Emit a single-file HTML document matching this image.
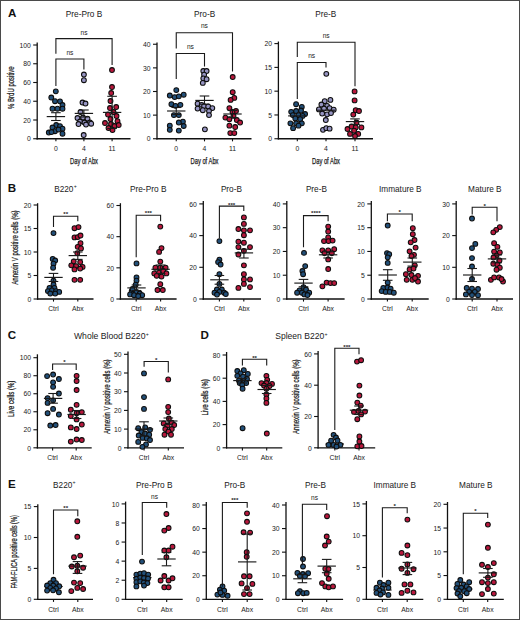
<!DOCTYPE html>
<html><head><meta charset="utf-8"><style>
html,body{margin:0;padding:0;background:#fff;}
body{width:520px;height:620px;overflow:hidden;}
svg{display:block;font-family:"Liberation Sans",sans-serif;}
</style></head><body>
<svg width="520" height="620" viewBox="0 0 520 620">
<rect x="0" y="0" width="520" height="620" fill="#fff"/>
<line x1="37.2" y1="42.5" x2="37.2" y2="139.4" stroke="#111" stroke-width="1.3"/>
<line x1="36.550000000000004" y1="138.75" x2="130.5" y2="138.75" stroke="#111" stroke-width="1.3"/>
<line x1="33.2" y1="138.75" x2="37.2" y2="138.75" stroke="#111" stroke-width="1.1"/>
<text x="30.800000000000004" y="138.95" font-size="6.8" font-weight="normal" text-anchor="end" dominant-baseline="central" fill="#1a1a1a">0</text>
<line x1="33.2" y1="120.0" x2="37.2" y2="120.0" stroke="#111" stroke-width="1.1"/>
<text x="30.800000000000004" y="120.2" font-size="6.8" font-weight="normal" text-anchor="end" dominant-baseline="central" fill="#1a1a1a">20</text>
<line x1="33.2" y1="101.25" x2="37.2" y2="101.25" stroke="#111" stroke-width="1.1"/>
<text x="30.800000000000004" y="101.45" font-size="6.8" font-weight="normal" text-anchor="end" dominant-baseline="central" fill="#1a1a1a">40</text>
<line x1="33.2" y1="82.5" x2="37.2" y2="82.5" stroke="#111" stroke-width="1.1"/>
<text x="30.800000000000004" y="82.7" font-size="6.8" font-weight="normal" text-anchor="end" dominant-baseline="central" fill="#1a1a1a">60</text>
<line x1="33.2" y1="63.75" x2="37.2" y2="63.75" stroke="#111" stroke-width="1.1"/>
<text x="30.800000000000004" y="63.95" font-size="6.8" font-weight="normal" text-anchor="end" dominant-baseline="central" fill="#1a1a1a">80</text>
<line x1="33.2" y1="45.0" x2="37.2" y2="45.0" stroke="#111" stroke-width="1.1"/>
<text x="30.800000000000004" y="45.2" font-size="6.8" font-weight="normal" text-anchor="end" dominant-baseline="central" fill="#1a1a1a">100</text>
<line x1="55.9" y1="138.75" x2="55.9" y2="141.35" stroke="#111" stroke-width="1.1"/>
<text x="55.9" y="148.8" font-size="6.8" font-weight="normal" text-anchor="middle" dominant-baseline="central" fill="#1a1a1a">0</text>
<line x1="83.9" y1="138.75" x2="83.9" y2="141.35" stroke="#111" stroke-width="1.1"/>
<text x="83.9" y="148.8" font-size="6.8" font-weight="normal" text-anchor="middle" dominant-baseline="central" fill="#1a1a1a">4</text>
<line x1="112.1" y1="138.75" x2="112.1" y2="141.35" stroke="#111" stroke-width="1.1"/>
<text x="112.1" y="148.8" font-size="6.8" font-weight="normal" text-anchor="middle" dominant-baseline="central" fill="#1a1a1a">11</text>
<circle cx="55.8" cy="91.3" r="2.4" fill="#22507a" stroke="#0d0d0d" stroke-width="1.05"/>
<circle cx="51.3" cy="97.5" r="2.4" fill="#22507a" stroke="#0d0d0d" stroke-width="1.05"/>
<circle cx="55.0" cy="101.2" r="2.4" fill="#22507a" stroke="#0d0d0d" stroke-width="1.05"/>
<circle cx="60.0" cy="101.3" r="2.4" fill="#22507a" stroke="#0d0d0d" stroke-width="1.05"/>
<circle cx="62.5" cy="105.0" r="2.4" fill="#22507a" stroke="#0d0d0d" stroke-width="1.05"/>
<circle cx="52.5" cy="108.7" r="2.4" fill="#22507a" stroke="#0d0d0d" stroke-width="1.05"/>
<circle cx="57.5" cy="108.7" r="2.4" fill="#22507a" stroke="#0d0d0d" stroke-width="1.05"/>
<circle cx="62.5" cy="108.7" r="2.4" fill="#22507a" stroke="#0d0d0d" stroke-width="1.05"/>
<circle cx="56.2" cy="125.0" r="2.4" fill="#22507a" stroke="#0d0d0d" stroke-width="1.05"/>
<circle cx="60.0" cy="126.2" r="2.4" fill="#22507a" stroke="#0d0d0d" stroke-width="1.05"/>
<circle cx="52.5" cy="127.5" r="2.4" fill="#22507a" stroke="#0d0d0d" stroke-width="1.05"/>
<circle cx="62.5" cy="128.7" r="2.4" fill="#22507a" stroke="#0d0d0d" stroke-width="1.05"/>
<circle cx="48.8" cy="132.5" r="2.4" fill="#22507a" stroke="#0d0d0d" stroke-width="1.05"/>
<circle cx="55.0" cy="131.2" r="2.4" fill="#22507a" stroke="#0d0d0d" stroke-width="1.05"/>
<circle cx="58.5" cy="129.5" r="2.4" fill="#22507a" stroke="#0d0d0d" stroke-width="1.05"/>
<circle cx="62.5" cy="133.7" r="2.4" fill="#22507a" stroke="#0d0d0d" stroke-width="1.05"/>
<circle cx="51.5" cy="132.0" r="2.4" fill="#22507a" stroke="#0d0d0d" stroke-width="1.05"/>
<circle cx="83.9" cy="74.5" r="2.4" fill="#9694c2" stroke="#0d0d0d" stroke-width="1.05"/>
<circle cx="83.9" cy="80.2" r="2.4" fill="#9694c2" stroke="#0d0d0d" stroke-width="1.05"/>
<circle cx="82.5" cy="102.5" r="2.4" fill="#9694c2" stroke="#0d0d0d" stroke-width="1.05"/>
<circle cx="85.5" cy="103.5" r="2.4" fill="#9694c2" stroke="#0d0d0d" stroke-width="1.05"/>
<circle cx="80.5" cy="112.0" r="2.4" fill="#9694c2" stroke="#0d0d0d" stroke-width="1.05"/>
<circle cx="77.5" cy="118.0" r="2.4" fill="#9694c2" stroke="#0d0d0d" stroke-width="1.05"/>
<circle cx="83.0" cy="117.5" r="2.4" fill="#9694c2" stroke="#0d0d0d" stroke-width="1.05"/>
<circle cx="87.5" cy="118.7" r="2.4" fill="#9694c2" stroke="#0d0d0d" stroke-width="1.05"/>
<circle cx="80.0" cy="121.5" r="2.4" fill="#9694c2" stroke="#0d0d0d" stroke-width="1.05"/>
<circle cx="84.5" cy="122.5" r="2.4" fill="#9694c2" stroke="#0d0d0d" stroke-width="1.05"/>
<circle cx="90.0" cy="122.5" r="2.4" fill="#9694c2" stroke="#0d0d0d" stroke-width="1.05"/>
<circle cx="78.5" cy="124.0" r="2.4" fill="#9694c2" stroke="#0d0d0d" stroke-width="1.05"/>
<circle cx="86.0" cy="124.5" r="2.4" fill="#9694c2" stroke="#0d0d0d" stroke-width="1.05"/>
<circle cx="91.2" cy="123.7" r="2.4" fill="#9694c2" stroke="#0d0d0d" stroke-width="1.05"/>
<circle cx="83.7" cy="135.0" r="2.4" fill="#9694c2" stroke="#0d0d0d" stroke-width="1.05"/>
<circle cx="112.0" cy="70.0" r="2.4" fill="#b8173c" stroke="#0d0d0d" stroke-width="1.05"/>
<circle cx="112.0" cy="87.0" r="2.4" fill="#b8173c" stroke="#0d0d0d" stroke-width="1.05"/>
<circle cx="111.2" cy="93.0" r="2.4" fill="#b8173c" stroke="#0d0d0d" stroke-width="1.05"/>
<circle cx="110.5" cy="101.0" r="2.4" fill="#b8173c" stroke="#0d0d0d" stroke-width="1.05"/>
<circle cx="116.2" cy="107.0" r="2.4" fill="#b8173c" stroke="#0d0d0d" stroke-width="1.05"/>
<circle cx="110.0" cy="108.0" r="2.4" fill="#b8173c" stroke="#0d0d0d" stroke-width="1.05"/>
<circle cx="113.5" cy="112.0" r="2.4" fill="#b8173c" stroke="#0d0d0d" stroke-width="1.05"/>
<circle cx="108.0" cy="114.5" r="2.4" fill="#b8173c" stroke="#0d0d0d" stroke-width="1.05"/>
<circle cx="110.5" cy="119.0" r="2.4" fill="#b8173c" stroke="#0d0d0d" stroke-width="1.05"/>
<circle cx="116.5" cy="116.0" r="2.4" fill="#b8173c" stroke="#0d0d0d" stroke-width="1.05"/>
<circle cx="105.0" cy="123.0" r="2.4" fill="#b8173c" stroke="#0d0d0d" stroke-width="1.05"/>
<circle cx="111.0" cy="124.0" r="2.4" fill="#b8173c" stroke="#0d0d0d" stroke-width="1.05"/>
<circle cx="117.5" cy="121.2" r="2.4" fill="#b8173c" stroke="#0d0d0d" stroke-width="1.05"/>
<circle cx="108.5" cy="128.0" r="2.4" fill="#b8173c" stroke="#0d0d0d" stroke-width="1.05"/>
<circle cx="114.5" cy="126.0" r="2.4" fill="#b8173c" stroke="#0d0d0d" stroke-width="1.05"/>
<circle cx="118.7" cy="125.0" r="2.4" fill="#b8173c" stroke="#0d0d0d" stroke-width="1.05"/>
<circle cx="112.5" cy="130.0" r="2.4" fill="#b8173c" stroke="#0d0d0d" stroke-width="1.05"/>
<line x1="46.7" y1="116.6" x2="65.1" y2="116.6" stroke="#1a1a1a" stroke-width="1.15"/>
<line x1="55.9" y1="112.7" x2="55.9" y2="120.5" stroke="#1a1a1a" stroke-width="1.1"/>
<line x1="51.1" y1="112.7" x2="60.699999999999996" y2="112.7" stroke="#1a1a1a" stroke-width="1.1"/>
<line x1="51.1" y1="120.5" x2="60.699999999999996" y2="120.5" stroke="#1a1a1a" stroke-width="1.1"/>
<line x1="74.7" y1="113.4" x2="93.10000000000001" y2="113.4" stroke="#1a1a1a" stroke-width="1.15"/>
<line x1="83.9" y1="110.0" x2="83.9" y2="117.0" stroke="#1a1a1a" stroke-width="1.1"/>
<line x1="79.10000000000001" y1="110.0" x2="88.7" y2="110.0" stroke="#1a1a1a" stroke-width="1.1"/>
<line x1="79.10000000000001" y1="117.0" x2="88.7" y2="117.0" stroke="#1a1a1a" stroke-width="1.1"/>
<line x1="102.89999999999999" y1="112.4" x2="121.3" y2="112.4" stroke="#1a1a1a" stroke-width="1.15"/>
<line x1="112.1" y1="96.3" x2="112.1" y2="128.5" stroke="#1a1a1a" stroke-width="1.1"/>
<line x1="107.3" y1="96.3" x2="116.89999999999999" y2="96.3" stroke="#1a1a1a" stroke-width="1.1"/>
<line x1="107.3" y1="128.5" x2="116.89999999999999" y2="128.5" stroke="#1a1a1a" stroke-width="1.1"/>
<path d="M55.9,53.7 V38.6 H112.1 V65.0" fill="none" stroke="#1a1a1a" stroke-width="1.1"/>
<text x="84.0" y="32.0" font-size="6.6" font-weight="normal" text-anchor="middle" dominant-baseline="central" fill="#222">ns</text>
<path d="M55.9,86.0 V59.0 H83.9 V69.5" fill="none" stroke="#1a1a1a" stroke-width="1.1"/>
<text x="69.9" y="52.2" font-size="6.6" font-weight="normal" text-anchor="middle" dominant-baseline="central" fill="#222">ns</text>
<text transform="translate(10.8,87.6) rotate(-90)" x="0" y="0" font-size="8.7" font-weight="normal" text-anchor="middle" dominant-baseline="central" fill="#1a1a1a" textLength="42.6" lengthAdjust="spacingAndGlyphs" stroke="#1a1a1a" stroke-width="0.25">% BrdU positive</text>
<text x="84.0" y="161.1" font-size="8.7" font-weight="normal" text-anchor="middle" dominant-baseline="central" fill="#1a1a1a" textLength="28" lengthAdjust="spacingAndGlyphs" stroke="#1a1a1a" stroke-width="0.25">Day of Abx</text>
<line x1="157.0" y1="42.5" x2="157.0" y2="139.4" stroke="#111" stroke-width="1.3"/>
<line x1="156.35" y1="138.75" x2="251.5" y2="138.75" stroke="#111" stroke-width="1.3"/>
<line x1="153.0" y1="138.75" x2="157.0" y2="138.75" stroke="#111" stroke-width="1.1"/>
<text x="150.6" y="138.95" font-size="6.8" font-weight="normal" text-anchor="end" dominant-baseline="central" fill="#1a1a1a">0</text>
<line x1="153.0" y1="115.125" x2="157.0" y2="115.125" stroke="#111" stroke-width="1.1"/>
<text x="150.6" y="115.325" font-size="6.8" font-weight="normal" text-anchor="end" dominant-baseline="central" fill="#1a1a1a">10</text>
<line x1="153.0" y1="91.5" x2="157.0" y2="91.5" stroke="#111" stroke-width="1.1"/>
<text x="150.6" y="91.7" font-size="6.8" font-weight="normal" text-anchor="end" dominant-baseline="central" fill="#1a1a1a">20</text>
<line x1="153.0" y1="67.875" x2="157.0" y2="67.875" stroke="#111" stroke-width="1.1"/>
<text x="150.6" y="68.075" font-size="6.8" font-weight="normal" text-anchor="end" dominant-baseline="central" fill="#1a1a1a">30</text>
<line x1="153.0" y1="44.25" x2="157.0" y2="44.25" stroke="#111" stroke-width="1.1"/>
<text x="150.6" y="44.45" font-size="6.8" font-weight="normal" text-anchor="end" dominant-baseline="central" fill="#1a1a1a">40</text>
<line x1="176.25" y1="138.75" x2="176.25" y2="141.35" stroke="#111" stroke-width="1.1"/>
<text x="176.25" y="148.8" font-size="6.8" font-weight="normal" text-anchor="middle" dominant-baseline="central" fill="#1a1a1a">0</text>
<line x1="204.5" y1="138.75" x2="204.5" y2="141.35" stroke="#111" stroke-width="1.1"/>
<text x="204.5" y="148.8" font-size="6.8" font-weight="normal" text-anchor="middle" dominant-baseline="central" fill="#1a1a1a">4</text>
<line x1="232.5" y1="138.75" x2="232.5" y2="141.35" stroke="#111" stroke-width="1.1"/>
<text x="232.5" y="148.8" font-size="6.8" font-weight="normal" text-anchor="middle" dominant-baseline="central" fill="#1a1a1a">11</text>
<circle cx="176.3" cy="90.1" r="2.4" fill="#22507a" stroke="#0d0d0d" stroke-width="1.05"/>
<circle cx="169.8" cy="95.5" r="2.4" fill="#22507a" stroke="#0d0d0d" stroke-width="1.05"/>
<circle cx="174.7" cy="97.1" r="2.4" fill="#22507a" stroke="#0d0d0d" stroke-width="1.05"/>
<circle cx="178.8" cy="96.3" r="2.4" fill="#22507a" stroke="#0d0d0d" stroke-width="1.05"/>
<circle cx="183.7" cy="94.7" r="2.4" fill="#22507a" stroke="#0d0d0d" stroke-width="1.05"/>
<circle cx="171.4" cy="104.2" r="2.4" fill="#22507a" stroke="#0d0d0d" stroke-width="1.05"/>
<circle cx="175.5" cy="105.8" r="2.4" fill="#22507a" stroke="#0d0d0d" stroke-width="1.05"/>
<circle cx="180.4" cy="104.8" r="2.4" fill="#22507a" stroke="#0d0d0d" stroke-width="1.05"/>
<circle cx="173.9" cy="115.1" r="2.4" fill="#22507a" stroke="#0d0d0d" stroke-width="1.05"/>
<circle cx="178.8" cy="115.1" r="2.4" fill="#22507a" stroke="#0d0d0d" stroke-width="1.05"/>
<circle cx="182.9" cy="121.6" r="2.4" fill="#22507a" stroke="#0d0d0d" stroke-width="1.05"/>
<circle cx="178.8" cy="122.5" r="2.4" fill="#22507a" stroke="#0d0d0d" stroke-width="1.05"/>
<circle cx="183.7" cy="126.0" r="2.4" fill="#22507a" stroke="#0d0d0d" stroke-width="1.05"/>
<circle cx="169.8" cy="125.7" r="2.4" fill="#22507a" stroke="#0d0d0d" stroke-width="1.05"/>
<circle cx="169.8" cy="129.8" r="2.4" fill="#22507a" stroke="#0d0d0d" stroke-width="1.05"/>
<circle cx="178.8" cy="130.6" r="2.4" fill="#22507a" stroke="#0d0d0d" stroke-width="1.05"/>
<circle cx="203.3" cy="71.0" r="2.4" fill="#9694c2" stroke="#0d0d0d" stroke-width="1.05"/>
<circle cx="206.6" cy="71.0" r="2.4" fill="#9694c2" stroke="#0d0d0d" stroke-width="1.05"/>
<circle cx="204.1" cy="74.7" r="2.4" fill="#9694c2" stroke="#0d0d0d" stroke-width="1.05"/>
<circle cx="203.3" cy="78.3" r="2.4" fill="#9694c2" stroke="#0d0d0d" stroke-width="1.05"/>
<circle cx="206.6" cy="79.2" r="2.4" fill="#9694c2" stroke="#0d0d0d" stroke-width="1.05"/>
<circle cx="202.8" cy="82.9" r="2.4" fill="#9694c2" stroke="#0d0d0d" stroke-width="1.05"/>
<circle cx="197.6" cy="103.7" r="2.4" fill="#9694c2" stroke="#0d0d0d" stroke-width="1.05"/>
<circle cx="201.7" cy="104.8" r="2.4" fill="#9694c2" stroke="#0d0d0d" stroke-width="1.05"/>
<circle cx="204.1" cy="106.1" r="2.4" fill="#9694c2" stroke="#0d0d0d" stroke-width="1.05"/>
<circle cx="208.2" cy="106.4" r="2.4" fill="#9694c2" stroke="#0d0d0d" stroke-width="1.05"/>
<circle cx="212.3" cy="108.1" r="2.4" fill="#9694c2" stroke="#0d0d0d" stroke-width="1.05"/>
<circle cx="197.6" cy="108.6" r="2.4" fill="#9694c2" stroke="#0d0d0d" stroke-width="1.05"/>
<circle cx="202.8" cy="110.2" r="2.4" fill="#9694c2" stroke="#0d0d0d" stroke-width="1.05"/>
<circle cx="209.0" cy="111.0" r="2.4" fill="#9694c2" stroke="#0d0d0d" stroke-width="1.05"/>
<circle cx="209.0" cy="115.1" r="2.4" fill="#9694c2" stroke="#0d0d0d" stroke-width="1.05"/>
<circle cx="204.9" cy="129.3" r="2.4" fill="#9694c2" stroke="#0d0d0d" stroke-width="1.05"/>
<circle cx="232.7" cy="77.0" r="2.4" fill="#b8173c" stroke="#0d0d0d" stroke-width="1.05"/>
<circle cx="232.7" cy="92.2" r="2.4" fill="#b8173c" stroke="#0d0d0d" stroke-width="1.05"/>
<circle cx="234.3" cy="97.9" r="2.4" fill="#b8173c" stroke="#0d0d0d" stroke-width="1.05"/>
<circle cx="230.6" cy="99.9" r="2.4" fill="#b8173c" stroke="#0d0d0d" stroke-width="1.05"/>
<circle cx="229.4" cy="108.1" r="2.4" fill="#b8173c" stroke="#0d0d0d" stroke-width="1.05"/>
<circle cx="236.0" cy="111.0" r="2.4" fill="#b8173c" stroke="#0d0d0d" stroke-width="1.05"/>
<circle cx="232.5" cy="112.0" r="2.4" fill="#b8173c" stroke="#0d0d0d" stroke-width="1.05"/>
<circle cx="225.4" cy="117.6" r="2.4" fill="#b8173c" stroke="#0d0d0d" stroke-width="1.05"/>
<circle cx="229.4" cy="119.2" r="2.4" fill="#b8173c" stroke="#0d0d0d" stroke-width="1.05"/>
<circle cx="233.5" cy="115.9" r="2.4" fill="#b8173c" stroke="#0d0d0d" stroke-width="1.05"/>
<circle cx="236.8" cy="120.0" r="2.4" fill="#b8173c" stroke="#0d0d0d" stroke-width="1.05"/>
<circle cx="240.1" cy="122.5" r="2.4" fill="#b8173c" stroke="#0d0d0d" stroke-width="1.05"/>
<circle cx="229.4" cy="125.7" r="2.4" fill="#b8173c" stroke="#0d0d0d" stroke-width="1.05"/>
<circle cx="235.2" cy="127.0" r="2.4" fill="#b8173c" stroke="#0d0d0d" stroke-width="1.05"/>
<circle cx="230.3" cy="133.1" r="2.4" fill="#b8173c" stroke="#0d0d0d" stroke-width="1.05"/>
<circle cx="234.3" cy="133.1" r="2.4" fill="#b8173c" stroke="#0d0d0d" stroke-width="1.05"/>
<line x1="167.05" y1="111.0" x2="185.45" y2="111.0" stroke="#1a1a1a" stroke-width="1.15"/>
<line x1="176.25" y1="107.5" x2="176.25" y2="114.5" stroke="#1a1a1a" stroke-width="1.1"/>
<line x1="171.45" y1="107.5" x2="181.05" y2="107.5" stroke="#1a1a1a" stroke-width="1.1"/>
<line x1="171.45" y1="114.5" x2="181.05" y2="114.5" stroke="#1a1a1a" stroke-width="1.1"/>
<line x1="195.3" y1="100.4" x2="213.7" y2="100.4" stroke="#1a1a1a" stroke-width="1.15"/>
<line x1="204.5" y1="96.0" x2="204.5" y2="104.2" stroke="#1a1a1a" stroke-width="1.1"/>
<line x1="199.7" y1="96.0" x2="209.3" y2="96.0" stroke="#1a1a1a" stroke-width="1.1"/>
<line x1="199.7" y1="104.2" x2="209.3" y2="104.2" stroke="#1a1a1a" stroke-width="1.1"/>
<line x1="223.3" y1="114.0" x2="241.7" y2="114.0" stroke="#1a1a1a" stroke-width="1.15"/>
<line x1="232.5" y1="110.5" x2="232.5" y2="117.5" stroke="#1a1a1a" stroke-width="1.1"/>
<line x1="227.7" y1="110.5" x2="237.3" y2="110.5" stroke="#1a1a1a" stroke-width="1.1"/>
<line x1="227.7" y1="117.5" x2="237.3" y2="117.5" stroke="#1a1a1a" stroke-width="1.1"/>
<path d="M176.25,48.5 V32.7 H232.5 V71.5" fill="none" stroke="#1a1a1a" stroke-width="1.1"/>
<text x="204.375" y="25.8" font-size="6.6" font-weight="normal" text-anchor="middle" dominant-baseline="central" fill="#222">ns</text>
<path d="M176.25,79.0 V53.5 H204.5 V66.5" fill="none" stroke="#1a1a1a" stroke-width="1.1"/>
<text x="190.375" y="46.5" font-size="6.6" font-weight="normal" text-anchor="middle" dominant-baseline="central" fill="#222">ns</text>
<text x="204.5" y="161.1" font-size="8.7" font-weight="normal" text-anchor="middle" dominant-baseline="central" fill="#1a1a1a" textLength="28" lengthAdjust="spacingAndGlyphs" stroke="#1a1a1a" stroke-width="0.25">Day of Abx</text>
<line x1="278.4" y1="41.5" x2="278.4" y2="139.4" stroke="#111" stroke-width="1.3"/>
<line x1="277.75" y1="138.75" x2="373.0" y2="138.75" stroke="#111" stroke-width="1.3"/>
<line x1="274.4" y1="138.75" x2="278.4" y2="138.75" stroke="#111" stroke-width="1.1"/>
<text x="272.0" y="138.95" font-size="6.8" font-weight="normal" text-anchor="end" dominant-baseline="central" fill="#1a1a1a">0</text>
<line x1="274.4" y1="114.9625" x2="278.4" y2="114.9625" stroke="#111" stroke-width="1.1"/>
<text x="272.0" y="115.16250000000001" font-size="6.8" font-weight="normal" text-anchor="end" dominant-baseline="central" fill="#1a1a1a">5</text>
<line x1="274.4" y1="91.175" x2="278.4" y2="91.175" stroke="#111" stroke-width="1.1"/>
<text x="272.0" y="91.375" font-size="6.8" font-weight="normal" text-anchor="end" dominant-baseline="central" fill="#1a1a1a">10</text>
<line x1="274.4" y1="67.3875" x2="278.4" y2="67.3875" stroke="#111" stroke-width="1.1"/>
<text x="272.0" y="67.5875" font-size="6.8" font-weight="normal" text-anchor="end" dominant-baseline="central" fill="#1a1a1a">15</text>
<line x1="274.4" y1="43.599999999999994" x2="278.4" y2="43.599999999999994" stroke="#111" stroke-width="1.1"/>
<text x="272.0" y="43.8" font-size="6.8" font-weight="normal" text-anchor="end" dominant-baseline="central" fill="#1a1a1a">20</text>
<line x1="297.3" y1="138.75" x2="297.3" y2="141.35" stroke="#111" stroke-width="1.1"/>
<text x="297.3" y="148.8" font-size="6.8" font-weight="normal" text-anchor="middle" dominant-baseline="central" fill="#1a1a1a">0</text>
<line x1="326.0" y1="138.75" x2="326.0" y2="141.35" stroke="#111" stroke-width="1.1"/>
<text x="326.0" y="148.8" font-size="6.8" font-weight="normal" text-anchor="middle" dominant-baseline="central" fill="#1a1a1a">4</text>
<line x1="355.0" y1="138.75" x2="355.0" y2="141.35" stroke="#111" stroke-width="1.1"/>
<text x="355.0" y="148.8" font-size="6.8" font-weight="normal" text-anchor="middle" dominant-baseline="central" fill="#1a1a1a">11</text>
<circle cx="296.1" cy="104.2" r="2.4" fill="#22507a" stroke="#0d0d0d" stroke-width="1.05"/>
<circle cx="301.8" cy="106.9" r="2.4" fill="#22507a" stroke="#0d0d0d" stroke-width="1.05"/>
<circle cx="291.2" cy="111.8" r="2.4" fill="#22507a" stroke="#0d0d0d" stroke-width="1.05"/>
<circle cx="296.1" cy="111.0" r="2.4" fill="#22507a" stroke="#0d0d0d" stroke-width="1.05"/>
<circle cx="301.0" cy="110.5" r="2.4" fill="#22507a" stroke="#0d0d0d" stroke-width="1.05"/>
<circle cx="305.1" cy="114.0" r="2.4" fill="#22507a" stroke="#0d0d0d" stroke-width="1.05"/>
<circle cx="292.8" cy="115.1" r="2.4" fill="#22507a" stroke="#0d0d0d" stroke-width="1.05"/>
<circle cx="298.5" cy="115.1" r="2.4" fill="#22507a" stroke="#0d0d0d" stroke-width="1.05"/>
<circle cx="302.6" cy="115.9" r="2.4" fill="#22507a" stroke="#0d0d0d" stroke-width="1.05"/>
<circle cx="295.3" cy="118.4" r="2.4" fill="#22507a" stroke="#0d0d0d" stroke-width="1.05"/>
<circle cx="300.2" cy="119.2" r="2.4" fill="#22507a" stroke="#0d0d0d" stroke-width="1.05"/>
<circle cx="290.4" cy="123.3" r="2.4" fill="#22507a" stroke="#0d0d0d" stroke-width="1.05"/>
<circle cx="296.1" cy="123.3" r="2.4" fill="#22507a" stroke="#0d0d0d" stroke-width="1.05"/>
<circle cx="301.8" cy="123.3" r="2.4" fill="#22507a" stroke="#0d0d0d" stroke-width="1.05"/>
<circle cx="298.5" cy="125.7" r="2.4" fill="#22507a" stroke="#0d0d0d" stroke-width="1.05"/>
<circle cx="293.1" cy="128.2" r="2.4" fill="#22507a" stroke="#0d0d0d" stroke-width="1.05"/>
<circle cx="326.3" cy="73.8" r="2.4" fill="#9694c2" stroke="#0d0d0d" stroke-width="1.05"/>
<circle cx="324.7" cy="101.2" r="2.4" fill="#9694c2" stroke="#0d0d0d" stroke-width="1.05"/>
<circle cx="330.4" cy="99.9" r="2.4" fill="#9694c2" stroke="#0d0d0d" stroke-width="1.05"/>
<circle cx="321.4" cy="104.5" r="2.4" fill="#9694c2" stroke="#0d0d0d" stroke-width="1.05"/>
<circle cx="327.1" cy="105.8" r="2.4" fill="#9694c2" stroke="#0d0d0d" stroke-width="1.05"/>
<circle cx="318.9" cy="109.4" r="2.4" fill="#9694c2" stroke="#0d0d0d" stroke-width="1.05"/>
<circle cx="324.0" cy="108.5" r="2.4" fill="#9694c2" stroke="#0d0d0d" stroke-width="1.05"/>
<circle cx="329.6" cy="108.1" r="2.4" fill="#9694c2" stroke="#0d0d0d" stroke-width="1.05"/>
<circle cx="333.7" cy="109.7" r="2.4" fill="#9694c2" stroke="#0d0d0d" stroke-width="1.05"/>
<circle cx="322.2" cy="113.5" r="2.4" fill="#9694c2" stroke="#0d0d0d" stroke-width="1.05"/>
<circle cx="327.1" cy="114.3" r="2.4" fill="#9694c2" stroke="#0d0d0d" stroke-width="1.05"/>
<circle cx="331.0" cy="113.0" r="2.4" fill="#9694c2" stroke="#0d0d0d" stroke-width="1.05"/>
<circle cx="325.8" cy="120.0" r="2.4" fill="#9694c2" stroke="#0d0d0d" stroke-width="1.05"/>
<circle cx="323.0" cy="129.8" r="2.4" fill="#9694c2" stroke="#0d0d0d" stroke-width="1.05"/>
<circle cx="326.3" cy="128.2" r="2.4" fill="#9694c2" stroke="#0d0d0d" stroke-width="1.05"/>
<circle cx="329.6" cy="128.7" r="2.4" fill="#9694c2" stroke="#0d0d0d" stroke-width="1.05"/>
<circle cx="354.6" cy="91.4" r="2.4" fill="#b8173c" stroke="#0d0d0d" stroke-width="1.05"/>
<circle cx="354.6" cy="100.4" r="2.4" fill="#b8173c" stroke="#0d0d0d" stroke-width="1.05"/>
<circle cx="355.7" cy="110.2" r="2.4" fill="#b8173c" stroke="#0d0d0d" stroke-width="1.05"/>
<circle cx="359.0" cy="111.0" r="2.4" fill="#b8173c" stroke="#0d0d0d" stroke-width="1.05"/>
<circle cx="353.3" cy="114.6" r="2.4" fill="#b8173c" stroke="#0d0d0d" stroke-width="1.05"/>
<circle cx="356.5" cy="122.5" r="2.4" fill="#b8173c" stroke="#0d0d0d" stroke-width="1.05"/>
<circle cx="347.5" cy="129.0" r="2.4" fill="#b8173c" stroke="#0d0d0d" stroke-width="1.05"/>
<circle cx="351.6" cy="126.5" r="2.4" fill="#b8173c" stroke="#0d0d0d" stroke-width="1.05"/>
<circle cx="355.7" cy="127.4" r="2.4" fill="#b8173c" stroke="#0d0d0d" stroke-width="1.05"/>
<circle cx="361.4" cy="127.4" r="2.4" fill="#b8173c" stroke="#0d0d0d" stroke-width="1.05"/>
<circle cx="350.0" cy="133.9" r="2.4" fill="#b8173c" stroke="#0d0d0d" stroke-width="1.05"/>
<circle cx="354.1" cy="130.6" r="2.4" fill="#b8173c" stroke="#0d0d0d" stroke-width="1.05"/>
<circle cx="358.2" cy="133.9" r="2.4" fill="#b8173c" stroke="#0d0d0d" stroke-width="1.05"/>
<circle cx="355.0" cy="136.0" r="2.4" fill="#b8173c" stroke="#0d0d0d" stroke-width="1.05"/>
<line x1="288.1" y1="115.9" x2="306.5" y2="115.9" stroke="#1a1a1a" stroke-width="1.15"/>
<line x1="316.8" y1="110.2" x2="335.2" y2="110.2" stroke="#1a1a1a" stroke-width="1.15"/>
<line x1="345.8" y1="121.6" x2="364.2" y2="121.6" stroke="#1a1a1a" stroke-width="1.15"/>
<line x1="355.0" y1="118.9" x2="355.0" y2="124.5" stroke="#1a1a1a" stroke-width="1.1"/>
<line x1="350.2" y1="118.9" x2="359.8" y2="118.9" stroke="#1a1a1a" stroke-width="1.1"/>
<line x1="350.2" y1="124.5" x2="359.8" y2="124.5" stroke="#1a1a1a" stroke-width="1.1"/>
<path d="M297.3,57.0 V42.2 H355.0 V86.2" fill="none" stroke="#1a1a1a" stroke-width="1.1"/>
<text x="326.15" y="35.0" font-size="6.6" font-weight="normal" text-anchor="middle" dominant-baseline="central" fill="#222">ns</text>
<path d="M297.3,99.0 V62.5 H326.0 V67.5" fill="none" stroke="#1a1a1a" stroke-width="1.1"/>
<text x="311.65" y="55.5" font-size="6.6" font-weight="normal" text-anchor="middle" dominant-baseline="central" fill="#222">ns</text>
<text x="326.0" y="161.1" font-size="8.7" font-weight="normal" text-anchor="middle" dominant-baseline="central" fill="#1a1a1a" textLength="28" lengthAdjust="spacingAndGlyphs" stroke="#1a1a1a" stroke-width="0.25">Day of Abx</text>
<line x1="37.6" y1="203.2" x2="37.6" y2="299.65" stroke="#111" stroke-width="1.3"/>
<line x1="36.95" y1="299.0" x2="93.5" y2="299.0" stroke="#111" stroke-width="1.3"/>
<line x1="33.6" y1="299.0" x2="37.6" y2="299.0" stroke="#111" stroke-width="1.1"/>
<text x="31.200000000000003" y="299.2" font-size="6.8" font-weight="normal" text-anchor="end" dominant-baseline="central" fill="#1a1a1a">0</text>
<line x1="33.6" y1="275.5" x2="37.6" y2="275.5" stroke="#111" stroke-width="1.1"/>
<text x="31.200000000000003" y="275.7" font-size="6.8" font-weight="normal" text-anchor="end" dominant-baseline="central" fill="#1a1a1a">5</text>
<line x1="33.6" y1="252.0" x2="37.6" y2="252.0" stroke="#111" stroke-width="1.1"/>
<text x="31.200000000000003" y="252.2" font-size="6.8" font-weight="normal" text-anchor="end" dominant-baseline="central" fill="#1a1a1a">10</text>
<line x1="33.6" y1="228.5" x2="37.6" y2="228.5" stroke="#111" stroke-width="1.1"/>
<text x="31.200000000000003" y="228.7" font-size="6.8" font-weight="normal" text-anchor="end" dominant-baseline="central" fill="#1a1a1a">15</text>
<line x1="33.6" y1="205.0" x2="37.6" y2="205.0" stroke="#111" stroke-width="1.1"/>
<text x="31.200000000000003" y="205.2" font-size="6.8" font-weight="normal" text-anchor="end" dominant-baseline="central" fill="#1a1a1a">20</text>
<line x1="53.5" y1="299.0" x2="53.5" y2="301.6" stroke="#111" stroke-width="1.1"/>
<text x="53.5" y="308.0" font-size="6.8" font-weight="normal" text-anchor="middle" dominant-baseline="central" fill="#1a1a1a">Ctrl</text>
<line x1="77.8" y1="299.0" x2="77.8" y2="301.6" stroke="#111" stroke-width="1.1"/>
<text x="77.8" y="308.0" font-size="6.8" font-weight="normal" text-anchor="middle" dominant-baseline="central" fill="#1a1a1a">Abx</text>
<circle cx="53.5" cy="233.1" r="2.4" fill="#22507a" stroke="#0d0d0d" stroke-width="1.05"/>
<circle cx="52.7" cy="258.9" r="2.4" fill="#22507a" stroke="#0d0d0d" stroke-width="1.05"/>
<circle cx="55.2" cy="260.5" r="2.4" fill="#22507a" stroke="#0d0d0d" stroke-width="1.05"/>
<circle cx="53.5" cy="263.7" r="2.4" fill="#22507a" stroke="#0d0d0d" stroke-width="1.05"/>
<circle cx="53.1" cy="267.7" r="2.4" fill="#22507a" stroke="#0d0d0d" stroke-width="1.05"/>
<circle cx="53.5" cy="280.6" r="2.4" fill="#22507a" stroke="#0d0d0d" stroke-width="1.05"/>
<circle cx="53.5" cy="284.7" r="2.4" fill="#22507a" stroke="#0d0d0d" stroke-width="1.05"/>
<circle cx="49.5" cy="287.9" r="2.4" fill="#22507a" stroke="#0d0d0d" stroke-width="1.05"/>
<circle cx="54.4" cy="287.9" r="2.4" fill="#22507a" stroke="#0d0d0d" stroke-width="1.05"/>
<circle cx="47.9" cy="291.1" r="2.4" fill="#22507a" stroke="#0d0d0d" stroke-width="1.05"/>
<circle cx="51.9" cy="290.3" r="2.4" fill="#22507a" stroke="#0d0d0d" stroke-width="1.05"/>
<circle cx="56.0" cy="291.1" r="2.4" fill="#22507a" stroke="#0d0d0d" stroke-width="1.05"/>
<circle cx="59.2" cy="291.9" r="2.4" fill="#22507a" stroke="#0d0d0d" stroke-width="1.05"/>
<circle cx="50.3" cy="293.5" r="2.4" fill="#22507a" stroke="#0d0d0d" stroke-width="1.05"/>
<circle cx="55.2" cy="293.5" r="2.4" fill="#22507a" stroke="#0d0d0d" stroke-width="1.05"/>
<circle cx="74.5" cy="228.2" r="2.4" fill="#b8173c" stroke="#0d0d0d" stroke-width="1.05"/>
<circle cx="78.5" cy="227.1" r="2.4" fill="#b8173c" stroke="#0d0d0d" stroke-width="1.05"/>
<circle cx="74.5" cy="237.4" r="2.4" fill="#b8173c" stroke="#0d0d0d" stroke-width="1.05"/>
<circle cx="77.7" cy="237.1" r="2.4" fill="#b8173c" stroke="#0d0d0d" stroke-width="1.05"/>
<circle cx="80.5" cy="235.5" r="2.4" fill="#b8173c" stroke="#0d0d0d" stroke-width="1.05"/>
<circle cx="80.5" cy="243.2" r="2.4" fill="#b8173c" stroke="#0d0d0d" stroke-width="1.05"/>
<circle cx="77.7" cy="246.8" r="2.4" fill="#b8173c" stroke="#0d0d0d" stroke-width="1.05"/>
<circle cx="81.0" cy="248.4" r="2.4" fill="#b8173c" stroke="#0d0d0d" stroke-width="1.05"/>
<circle cx="77.3" cy="253.2" r="2.4" fill="#b8173c" stroke="#0d0d0d" stroke-width="1.05"/>
<circle cx="73.7" cy="261.3" r="2.4" fill="#b8173c" stroke="#0d0d0d" stroke-width="1.05"/>
<circle cx="80.2" cy="262.1" r="2.4" fill="#b8173c" stroke="#0d0d0d" stroke-width="1.05"/>
<circle cx="71.3" cy="265.3" r="2.4" fill="#b8173c" stroke="#0d0d0d" stroke-width="1.05"/>
<circle cx="76.1" cy="266.1" r="2.4" fill="#b8173c" stroke="#0d0d0d" stroke-width="1.05"/>
<circle cx="82.6" cy="266.9" r="2.4" fill="#b8173c" stroke="#0d0d0d" stroke-width="1.05"/>
<circle cx="74.5" cy="269.4" r="2.4" fill="#b8173c" stroke="#0d0d0d" stroke-width="1.05"/>
<circle cx="80.2" cy="268.5" r="2.4" fill="#b8173c" stroke="#0d0d0d" stroke-width="1.05"/>
<circle cx="74.5" cy="279.8" r="2.4" fill="#b8173c" stroke="#0d0d0d" stroke-width="1.05"/>
<circle cx="80.2" cy="279.8" r="2.4" fill="#b8173c" stroke="#0d0d0d" stroke-width="1.05"/>
<line x1="44.3" y1="277.4" x2="62.7" y2="277.4" stroke="#1a1a1a" stroke-width="1.15"/>
<line x1="53.5" y1="273.4" x2="53.5" y2="281.5" stroke="#1a1a1a" stroke-width="1.1"/>
<line x1="48.7" y1="273.4" x2="58.3" y2="273.4" stroke="#1a1a1a" stroke-width="1.1"/>
<line x1="48.7" y1="281.5" x2="58.3" y2="281.5" stroke="#1a1a1a" stroke-width="1.1"/>
<line x1="68.6" y1="255.6" x2="87.0" y2="255.6" stroke="#1a1a1a" stroke-width="1.15"/>
<line x1="77.8" y1="252.0" x2="77.8" y2="259.4" stroke="#1a1a1a" stroke-width="1.1"/>
<line x1="73.0" y1="252.0" x2="82.6" y2="252.0" stroke="#1a1a1a" stroke-width="1.1"/>
<line x1="73.0" y1="259.4" x2="82.6" y2="259.4" stroke="#1a1a1a" stroke-width="1.1"/>
<path d="M53.5,226.9 V216.3 H77.8 V221.2" fill="none" stroke="#1a1a1a" stroke-width="1.1"/>
<text x="65.65" y="213.6" font-size="6.2" font-weight="bold" text-anchor="middle" dominant-baseline="central" fill="#222">**</text>
<text transform="translate(15.4,247.6) rotate(-90)" x="0" y="0" font-size="8.7" font-weight="normal" text-anchor="middle" dominant-baseline="central" fill="#1a1a1a" textLength="74.2" lengthAdjust="spacingAndGlyphs" stroke="#1a1a1a" stroke-width="0.25">Annexin V positive cells (%)</text>
<line x1="120.4" y1="203.2" x2="120.4" y2="299.65" stroke="#111" stroke-width="1.3"/>
<line x1="119.75" y1="299.0" x2="176.6" y2="299.0" stroke="#111" stroke-width="1.3"/>
<line x1="116.4" y1="299.0" x2="120.4" y2="299.0" stroke="#111" stroke-width="1.1"/>
<text x="114.0" y="299.2" font-size="6.8" font-weight="normal" text-anchor="end" dominant-baseline="central" fill="#1a1a1a">0</text>
<line x1="116.4" y1="267.8333333333333" x2="120.4" y2="267.8333333333333" stroke="#111" stroke-width="1.1"/>
<text x="114.0" y="268.0333333333333" font-size="6.8" font-weight="normal" text-anchor="end" dominant-baseline="central" fill="#1a1a1a">20</text>
<line x1="116.4" y1="236.66666666666666" x2="120.4" y2="236.66666666666666" stroke="#111" stroke-width="1.1"/>
<text x="114.0" y="236.86666666666665" font-size="6.8" font-weight="normal" text-anchor="end" dominant-baseline="central" fill="#1a1a1a">40</text>
<line x1="116.4" y1="205.5" x2="120.4" y2="205.5" stroke="#111" stroke-width="1.1"/>
<text x="114.0" y="205.7" font-size="6.8" font-weight="normal" text-anchor="end" dominant-baseline="central" fill="#1a1a1a">60</text>
<line x1="136.2" y1="299.0" x2="136.2" y2="301.6" stroke="#111" stroke-width="1.1"/>
<text x="136.2" y="308.0" font-size="6.8" font-weight="normal" text-anchor="middle" dominant-baseline="central" fill="#1a1a1a">Ctrl</text>
<line x1="160.6" y1="299.0" x2="160.6" y2="301.6" stroke="#111" stroke-width="1.1"/>
<text x="160.6" y="308.0" font-size="6.8" font-weight="normal" text-anchor="middle" dominant-baseline="central" fill="#1a1a1a">Abx</text>
<circle cx="136.5" cy="263.4" r="2.4" fill="#22507a" stroke="#0d0d0d" stroke-width="1.05"/>
<circle cx="136.5" cy="277.4" r="2.4" fill="#22507a" stroke="#0d0d0d" stroke-width="1.05"/>
<circle cx="136.5" cy="280.6" r="2.4" fill="#22507a" stroke="#0d0d0d" stroke-width="1.05"/>
<circle cx="135.7" cy="284.7" r="2.4" fill="#22507a" stroke="#0d0d0d" stroke-width="1.05"/>
<circle cx="131.7" cy="291.1" r="2.4" fill="#22507a" stroke="#0d0d0d" stroke-width="1.05"/>
<circle cx="136.5" cy="291.9" r="2.4" fill="#22507a" stroke="#0d0d0d" stroke-width="1.05"/>
<circle cx="139.8" cy="293.5" r="2.4" fill="#22507a" stroke="#0d0d0d" stroke-width="1.05"/>
<circle cx="130.1" cy="294.4" r="2.4" fill="#22507a" stroke="#0d0d0d" stroke-width="1.05"/>
<circle cx="134.1" cy="295.2" r="2.4" fill="#22507a" stroke="#0d0d0d" stroke-width="1.05"/>
<circle cx="142.2" cy="295.2" r="2.4" fill="#22507a" stroke="#0d0d0d" stroke-width="1.05"/>
<circle cx="138.2" cy="296.0" r="2.4" fill="#22507a" stroke="#0d0d0d" stroke-width="1.05"/>
<circle cx="132.5" cy="289.0" r="2.4" fill="#22507a" stroke="#0d0d0d" stroke-width="1.05"/>
<circle cx="160.3" cy="226.6" r="2.4" fill="#b8173c" stroke="#0d0d0d" stroke-width="1.05"/>
<circle cx="161.5" cy="248.1" r="2.4" fill="#b8173c" stroke="#0d0d0d" stroke-width="1.05"/>
<circle cx="159.1" cy="251.9" r="2.4" fill="#b8173c" stroke="#0d0d0d" stroke-width="1.05"/>
<circle cx="160.3" cy="261.6" r="2.4" fill="#b8173c" stroke="#0d0d0d" stroke-width="1.05"/>
<circle cx="155.4" cy="267.7" r="2.4" fill="#b8173c" stroke="#0d0d0d" stroke-width="1.05"/>
<circle cx="160.3" cy="267.7" r="2.4" fill="#b8173c" stroke="#0d0d0d" stroke-width="1.05"/>
<circle cx="165.6" cy="267.7" r="2.4" fill="#b8173c" stroke="#0d0d0d" stroke-width="1.05"/>
<circle cx="154.3" cy="273.4" r="2.4" fill="#b8173c" stroke="#0d0d0d" stroke-width="1.05"/>
<circle cx="159.1" cy="272.6" r="2.4" fill="#b8173c" stroke="#0d0d0d" stroke-width="1.05"/>
<circle cx="163.2" cy="271.0" r="2.4" fill="#b8173c" stroke="#0d0d0d" stroke-width="1.05"/>
<circle cx="166.4" cy="273.4" r="2.4" fill="#b8173c" stroke="#0d0d0d" stroke-width="1.05"/>
<circle cx="156.7" cy="275.8" r="2.4" fill="#b8173c" stroke="#0d0d0d" stroke-width="1.05"/>
<circle cx="161.5" cy="276.6" r="2.4" fill="#b8173c" stroke="#0d0d0d" stroke-width="1.05"/>
<circle cx="160.3" cy="284.2" r="2.4" fill="#b8173c" stroke="#0d0d0d" stroke-width="1.05"/>
<circle cx="157.5" cy="290.0" r="2.4" fill="#b8173c" stroke="#0d0d0d" stroke-width="1.05"/>
<circle cx="162.8" cy="290.0" r="2.4" fill="#b8173c" stroke="#0d0d0d" stroke-width="1.05"/>
<line x1="127.3" y1="287.9" x2="145.7" y2="287.9" stroke="#1a1a1a" stroke-width="1.15"/>
<line x1="136.5" y1="285.0" x2="136.5" y2="290.5" stroke="#1a1a1a" stroke-width="1.1"/>
<line x1="131.7" y1="285.0" x2="141.3" y2="285.0" stroke="#1a1a1a" stroke-width="1.1"/>
<line x1="131.7" y1="290.5" x2="141.3" y2="290.5" stroke="#1a1a1a" stroke-width="1.1"/>
<line x1="151.4" y1="269.3" x2="169.79999999999998" y2="269.3" stroke="#1a1a1a" stroke-width="1.15"/>
<line x1="160.6" y1="265.0" x2="160.6" y2="273.5" stroke="#1a1a1a" stroke-width="1.1"/>
<line x1="155.79999999999998" y1="265.0" x2="165.4" y2="265.0" stroke="#1a1a1a" stroke-width="1.1"/>
<line x1="155.79999999999998" y1="273.5" x2="165.4" y2="273.5" stroke="#1a1a1a" stroke-width="1.1"/>
<path d="M136.2,257.3 V215.2 H160.6 V221.2" fill="none" stroke="#1a1a1a" stroke-width="1.1"/>
<text x="148.39999999999998" y="212.6" font-size="6.2" font-weight="bold" text-anchor="middle" dominant-baseline="central" fill="#222">***</text>
<line x1="203.3" y1="201.0" x2="203.3" y2="299.65" stroke="#111" stroke-width="1.3"/>
<line x1="202.65" y1="299.0" x2="261.0" y2="299.0" stroke="#111" stroke-width="1.3"/>
<line x1="199.3" y1="299.0" x2="203.3" y2="299.0" stroke="#111" stroke-width="1.1"/>
<text x="196.9" y="299.2" font-size="6.8" font-weight="normal" text-anchor="end" dominant-baseline="central" fill="#1a1a1a">0</text>
<line x1="199.3" y1="267.3" x2="203.3" y2="267.3" stroke="#111" stroke-width="1.1"/>
<text x="196.9" y="267.5" font-size="6.8" font-weight="normal" text-anchor="end" dominant-baseline="central" fill="#1a1a1a">20</text>
<line x1="199.3" y1="235.6" x2="203.3" y2="235.6" stroke="#111" stroke-width="1.1"/>
<text x="196.9" y="235.79999999999998" font-size="6.8" font-weight="normal" text-anchor="end" dominant-baseline="central" fill="#1a1a1a">40</text>
<line x1="199.3" y1="203.9" x2="203.3" y2="203.9" stroke="#111" stroke-width="1.1"/>
<text x="196.9" y="204.1" font-size="6.8" font-weight="normal" text-anchor="end" dominant-baseline="central" fill="#1a1a1a">60</text>
<line x1="219.4" y1="299.0" x2="219.4" y2="301.6" stroke="#111" stroke-width="1.1"/>
<text x="219.4" y="308.0" font-size="6.8" font-weight="normal" text-anchor="middle" dominant-baseline="central" fill="#1a1a1a">Ctrl</text>
<line x1="243.8" y1="299.0" x2="243.8" y2="301.6" stroke="#111" stroke-width="1.1"/>
<text x="243.8" y="308.0" font-size="6.8" font-weight="normal" text-anchor="middle" dominant-baseline="central" fill="#1a1a1a">Abx</text>
<circle cx="219.4" cy="241.1" r="2.4" fill="#22507a" stroke="#0d0d0d" stroke-width="1.05"/>
<circle cx="219.4" cy="259.7" r="2.4" fill="#22507a" stroke="#0d0d0d" stroke-width="1.05"/>
<circle cx="218.1" cy="262.1" r="2.4" fill="#22507a" stroke="#0d0d0d" stroke-width="1.05"/>
<circle cx="220.6" cy="264.5" r="2.4" fill="#22507a" stroke="#0d0d0d" stroke-width="1.05"/>
<circle cx="219.4" cy="274.2" r="2.4" fill="#22507a" stroke="#0d0d0d" stroke-width="1.05"/>
<circle cx="219.4" cy="283.9" r="2.4" fill="#22507a" stroke="#0d0d0d" stroke-width="1.05"/>
<circle cx="216.9" cy="289.5" r="2.4" fill="#22507a" stroke="#0d0d0d" stroke-width="1.05"/>
<circle cx="221.8" cy="289.5" r="2.4" fill="#22507a" stroke="#0d0d0d" stroke-width="1.05"/>
<circle cx="214.5" cy="292.7" r="2.4" fill="#22507a" stroke="#0d0d0d" stroke-width="1.05"/>
<circle cx="219.4" cy="291.9" r="2.4" fill="#22507a" stroke="#0d0d0d" stroke-width="1.05"/>
<circle cx="224.2" cy="292.7" r="2.4" fill="#22507a" stroke="#0d0d0d" stroke-width="1.05"/>
<circle cx="217.0" cy="294.5" r="2.4" fill="#22507a" stroke="#0d0d0d" stroke-width="1.05"/>
<circle cx="225.8" cy="294.0" r="2.4" fill="#22507a" stroke="#0d0d0d" stroke-width="1.05"/>
<circle cx="243.9" cy="217.4" r="2.4" fill="#b8173c" stroke="#0d0d0d" stroke-width="1.05"/>
<circle cx="243.9" cy="223.9" r="2.4" fill="#b8173c" stroke="#0d0d0d" stroke-width="1.05"/>
<circle cx="238.4" cy="229.0" r="2.4" fill="#b8173c" stroke="#0d0d0d" stroke-width="1.05"/>
<circle cx="243.9" cy="230.3" r="2.4" fill="#b8173c" stroke="#0d0d0d" stroke-width="1.05"/>
<circle cx="250.0" cy="230.3" r="2.4" fill="#b8173c" stroke="#0d0d0d" stroke-width="1.05"/>
<circle cx="243.9" cy="235.2" r="2.4" fill="#b8173c" stroke="#0d0d0d" stroke-width="1.05"/>
<circle cx="238.4" cy="241.6" r="2.4" fill="#b8173c" stroke="#0d0d0d" stroke-width="1.05"/>
<circle cx="243.9" cy="242.7" r="2.4" fill="#b8173c" stroke="#0d0d0d" stroke-width="1.05"/>
<circle cx="238.4" cy="247.1" r="2.4" fill="#b8173c" stroke="#0d0d0d" stroke-width="1.05"/>
<circle cx="250.0" cy="247.1" r="2.4" fill="#b8173c" stroke="#0d0d0d" stroke-width="1.05"/>
<circle cx="243.9" cy="250.8" r="2.4" fill="#b8173c" stroke="#0d0d0d" stroke-width="1.05"/>
<circle cx="238.4" cy="254.5" r="2.4" fill="#b8173c" stroke="#0d0d0d" stroke-width="1.05"/>
<circle cx="243.9" cy="265.3" r="2.4" fill="#b8173c" stroke="#0d0d0d" stroke-width="1.05"/>
<circle cx="243.9" cy="274.2" r="2.4" fill="#b8173c" stroke="#0d0d0d" stroke-width="1.05"/>
<circle cx="243.9" cy="279.4" r="2.4" fill="#b8173c" stroke="#0d0d0d" stroke-width="1.05"/>
<circle cx="250.0" cy="279.4" r="2.4" fill="#b8173c" stroke="#0d0d0d" stroke-width="1.05"/>
<circle cx="243.9" cy="283.9" r="2.4" fill="#b8173c" stroke="#0d0d0d" stroke-width="1.05"/>
<circle cx="238.4" cy="287.9" r="2.4" fill="#b8173c" stroke="#0d0d0d" stroke-width="1.05"/>
<circle cx="250.0" cy="287.1" r="2.4" fill="#b8173c" stroke="#0d0d0d" stroke-width="1.05"/>
<line x1="210.20000000000002" y1="279.8" x2="228.6" y2="279.8" stroke="#1a1a1a" stroke-width="1.15"/>
<line x1="219.4" y1="275.5" x2="219.4" y2="284.2" stroke="#1a1a1a" stroke-width="1.1"/>
<line x1="214.6" y1="275.5" x2="224.20000000000002" y2="275.5" stroke="#1a1a1a" stroke-width="1.1"/>
<line x1="214.6" y1="284.2" x2="224.20000000000002" y2="284.2" stroke="#1a1a1a" stroke-width="1.1"/>
<line x1="234.70000000000002" y1="252.9" x2="253.1" y2="252.9" stroke="#1a1a1a" stroke-width="1.15"/>
<line x1="243.9" y1="249.2" x2="243.9" y2="258.0" stroke="#1a1a1a" stroke-width="1.1"/>
<line x1="239.1" y1="249.2" x2="248.70000000000002" y2="249.2" stroke="#1a1a1a" stroke-width="1.1"/>
<line x1="239.1" y1="258.0" x2="248.70000000000002" y2="258.0" stroke="#1a1a1a" stroke-width="1.1"/>
<path d="M219.4,238.2 V206.1 H243.8 V211.0" fill="none" stroke="#1a1a1a" stroke-width="1.1"/>
<text x="231.60000000000002" y="204.6" font-size="6.2" font-weight="bold" text-anchor="middle" dominant-baseline="central" fill="#222">***</text>
<line x1="286.8" y1="201.0" x2="286.8" y2="299.65" stroke="#111" stroke-width="1.3"/>
<line x1="286.15000000000003" y1="299.0" x2="344.6" y2="299.0" stroke="#111" stroke-width="1.3"/>
<line x1="282.8" y1="299.0" x2="286.8" y2="299.0" stroke="#111" stroke-width="1.1"/>
<text x="280.40000000000003" y="299.2" font-size="6.8" font-weight="normal" text-anchor="end" dominant-baseline="central" fill="#1a1a1a">0</text>
<line x1="282.8" y1="275.225" x2="286.8" y2="275.225" stroke="#111" stroke-width="1.1"/>
<text x="280.40000000000003" y="275.425" font-size="6.8" font-weight="normal" text-anchor="end" dominant-baseline="central" fill="#1a1a1a">10</text>
<line x1="282.8" y1="251.45" x2="286.8" y2="251.45" stroke="#111" stroke-width="1.1"/>
<text x="280.40000000000003" y="251.64999999999998" font-size="6.8" font-weight="normal" text-anchor="end" dominant-baseline="central" fill="#1a1a1a">20</text>
<line x1="282.8" y1="227.675" x2="286.8" y2="227.675" stroke="#111" stroke-width="1.1"/>
<text x="280.40000000000003" y="227.875" font-size="6.8" font-weight="normal" text-anchor="end" dominant-baseline="central" fill="#1a1a1a">30</text>
<line x1="282.8" y1="203.9" x2="286.8" y2="203.9" stroke="#111" stroke-width="1.1"/>
<text x="280.40000000000003" y="204.1" font-size="6.8" font-weight="normal" text-anchor="end" dominant-baseline="central" fill="#1a1a1a">40</text>
<line x1="303.5" y1="299.0" x2="303.5" y2="301.6" stroke="#111" stroke-width="1.1"/>
<text x="303.5" y="308.0" font-size="6.8" font-weight="normal" text-anchor="middle" dominant-baseline="central" fill="#1a1a1a">Ctrl</text>
<line x1="328.1" y1="299.0" x2="328.1" y2="301.6" stroke="#111" stroke-width="1.1"/>
<text x="328.1" y="308.0" font-size="6.8" font-weight="normal" text-anchor="middle" dominant-baseline="central" fill="#1a1a1a">Abx</text>
<circle cx="304.0" cy="252.9" r="2.4" fill="#22507a" stroke="#0d0d0d" stroke-width="1.05"/>
<circle cx="305.2" cy="266.1" r="2.4" fill="#22507a" stroke="#0d0d0d" stroke-width="1.05"/>
<circle cx="302.4" cy="271.0" r="2.4" fill="#22507a" stroke="#0d0d0d" stroke-width="1.05"/>
<circle cx="303.1" cy="274.2" r="2.4" fill="#22507a" stroke="#0d0d0d" stroke-width="1.05"/>
<circle cx="303.5" cy="287.1" r="2.4" fill="#22507a" stroke="#0d0d0d" stroke-width="1.05"/>
<circle cx="299.5" cy="290.3" r="2.4" fill="#22507a" stroke="#0d0d0d" stroke-width="1.05"/>
<circle cx="306.0" cy="289.5" r="2.4" fill="#22507a" stroke="#0d0d0d" stroke-width="1.05"/>
<circle cx="297.1" cy="292.7" r="2.4" fill="#22507a" stroke="#0d0d0d" stroke-width="1.05"/>
<circle cx="301.9" cy="292.7" r="2.4" fill="#22507a" stroke="#0d0d0d" stroke-width="1.05"/>
<circle cx="309.2" cy="292.7" r="2.4" fill="#22507a" stroke="#0d0d0d" stroke-width="1.05"/>
<circle cx="304.4" cy="294.4" r="2.4" fill="#22507a" stroke="#0d0d0d" stroke-width="1.05"/>
<circle cx="307.5" cy="295.0" r="2.4" fill="#22507a" stroke="#0d0d0d" stroke-width="1.05"/>
<circle cx="328.2" cy="226.6" r="2.4" fill="#b8173c" stroke="#0d0d0d" stroke-width="1.05"/>
<circle cx="328.2" cy="231.5" r="2.4" fill="#b8173c" stroke="#0d0d0d" stroke-width="1.05"/>
<circle cx="328.2" cy="237.4" r="2.4" fill="#b8173c" stroke="#0d0d0d" stroke-width="1.05"/>
<circle cx="324.0" cy="241.1" r="2.4" fill="#b8173c" stroke="#0d0d0d" stroke-width="1.05"/>
<circle cx="328.5" cy="241.1" r="2.4" fill="#b8173c" stroke="#0d0d0d" stroke-width="1.05"/>
<circle cx="332.6" cy="240.6" r="2.4" fill="#b8173c" stroke="#0d0d0d" stroke-width="1.05"/>
<circle cx="322.4" cy="250.3" r="2.4" fill="#b8173c" stroke="#0d0d0d" stroke-width="1.05"/>
<circle cx="328.2" cy="250.3" r="2.4" fill="#b8173c" stroke="#0d0d0d" stroke-width="1.05"/>
<circle cx="334.2" cy="249.2" r="2.4" fill="#b8173c" stroke="#0d0d0d" stroke-width="1.05"/>
<circle cx="324.5" cy="253.2" r="2.4" fill="#b8173c" stroke="#0d0d0d" stroke-width="1.05"/>
<circle cx="331.8" cy="253.2" r="2.4" fill="#b8173c" stroke="#0d0d0d" stroke-width="1.05"/>
<circle cx="328.2" cy="259.4" r="2.4" fill="#b8173c" stroke="#0d0d0d" stroke-width="1.05"/>
<circle cx="328.2" cy="269.0" r="2.4" fill="#b8173c" stroke="#0d0d0d" stroke-width="1.05"/>
<circle cx="322.4" cy="286.3" r="2.4" fill="#b8173c" stroke="#0d0d0d" stroke-width="1.05"/>
<circle cx="326.6" cy="282.6" r="2.4" fill="#b8173c" stroke="#0d0d0d" stroke-width="1.05"/>
<circle cx="330.5" cy="283.1" r="2.4" fill="#b8173c" stroke="#0d0d0d" stroke-width="1.05"/>
<circle cx="334.2" cy="283.1" r="2.4" fill="#b8173c" stroke="#0d0d0d" stroke-width="1.05"/>
<line x1="294.3" y1="283.1" x2="312.7" y2="283.1" stroke="#1a1a1a" stroke-width="1.15"/>
<line x1="303.5" y1="279.4" x2="303.5" y2="286.8" stroke="#1a1a1a" stroke-width="1.1"/>
<line x1="298.7" y1="279.4" x2="308.3" y2="279.4" stroke="#1a1a1a" stroke-width="1.1"/>
<line x1="298.7" y1="286.8" x2="308.3" y2="286.8" stroke="#1a1a1a" stroke-width="1.1"/>
<line x1="318.90000000000003" y1="254.8" x2="337.3" y2="254.8" stroke="#1a1a1a" stroke-width="1.15"/>
<line x1="328.1" y1="251.8" x2="328.1" y2="258.0" stroke="#1a1a1a" stroke-width="1.1"/>
<line x1="323.3" y1="251.8" x2="332.90000000000003" y2="251.8" stroke="#1a1a1a" stroke-width="1.1"/>
<line x1="323.3" y1="258.0" x2="332.90000000000003" y2="258.0" stroke="#1a1a1a" stroke-width="1.1"/>
<path d="M303.5,247.2 V215.6 H328.1 V221.2" fill="none" stroke="#1a1a1a" stroke-width="1.1"/>
<text x="315.8" y="212.6" font-size="6.2" font-weight="bold" text-anchor="middle" dominant-baseline="central" fill="#222">****</text>
<line x1="371.3" y1="201.0" x2="371.3" y2="299.65" stroke="#111" stroke-width="1.3"/>
<line x1="370.65000000000003" y1="299.0" x2="428.7" y2="299.0" stroke="#111" stroke-width="1.3"/>
<line x1="367.3" y1="299.0" x2="371.3" y2="299.0" stroke="#111" stroke-width="1.1"/>
<text x="364.90000000000003" y="299.2" font-size="6.8" font-weight="normal" text-anchor="end" dominant-baseline="central" fill="#1a1a1a">0</text>
<line x1="367.3" y1="275.225" x2="371.3" y2="275.225" stroke="#111" stroke-width="1.1"/>
<text x="364.90000000000003" y="275.425" font-size="6.8" font-weight="normal" text-anchor="end" dominant-baseline="central" fill="#1a1a1a">5</text>
<line x1="367.3" y1="251.45" x2="371.3" y2="251.45" stroke="#111" stroke-width="1.1"/>
<text x="364.90000000000003" y="251.64999999999998" font-size="6.8" font-weight="normal" text-anchor="end" dominant-baseline="central" fill="#1a1a1a">10</text>
<line x1="367.3" y1="227.675" x2="371.3" y2="227.675" stroke="#111" stroke-width="1.1"/>
<text x="364.90000000000003" y="227.875" font-size="6.8" font-weight="normal" text-anchor="end" dominant-baseline="central" fill="#1a1a1a">15</text>
<line x1="367.3" y1="203.9" x2="371.3" y2="203.9" stroke="#111" stroke-width="1.1"/>
<text x="364.90000000000003" y="204.1" font-size="6.8" font-weight="normal" text-anchor="end" dominant-baseline="central" fill="#1a1a1a">20</text>
<line x1="387.4" y1="299.0" x2="387.4" y2="301.6" stroke="#111" stroke-width="1.1"/>
<text x="387.4" y="308.0" font-size="6.8" font-weight="normal" text-anchor="middle" dominant-baseline="central" fill="#1a1a1a">Ctrl</text>
<line x1="412.2" y1="299.0" x2="412.2" y2="301.6" stroke="#111" stroke-width="1.1"/>
<text x="412.2" y="308.0" font-size="6.8" font-weight="normal" text-anchor="middle" dominant-baseline="central" fill="#1a1a1a">Abx</text>
<circle cx="387.7" cy="225.5" r="2.4" fill="#22507a" stroke="#0d0d0d" stroke-width="1.05"/>
<circle cx="387.0" cy="253.2" r="2.4" fill="#22507a" stroke="#0d0d0d" stroke-width="1.05"/>
<circle cx="389.2" cy="254.2" r="2.4" fill="#22507a" stroke="#0d0d0d" stroke-width="1.05"/>
<circle cx="387.7" cy="257.3" r="2.4" fill="#22507a" stroke="#0d0d0d" stroke-width="1.05"/>
<circle cx="387.7" cy="262.9" r="2.4" fill="#22507a" stroke="#0d0d0d" stroke-width="1.05"/>
<circle cx="387.7" cy="282.6" r="2.4" fill="#22507a" stroke="#0d0d0d" stroke-width="1.05"/>
<circle cx="383.3" cy="287.9" r="2.4" fill="#22507a" stroke="#0d0d0d" stroke-width="1.05"/>
<circle cx="387.5" cy="287.5" r="2.4" fill="#22507a" stroke="#0d0d0d" stroke-width="1.05"/>
<circle cx="390.6" cy="288.7" r="2.4" fill="#22507a" stroke="#0d0d0d" stroke-width="1.05"/>
<circle cx="381.7" cy="291.1" r="2.4" fill="#22507a" stroke="#0d0d0d" stroke-width="1.05"/>
<circle cx="385.7" cy="291.9" r="2.4" fill="#22507a" stroke="#0d0d0d" stroke-width="1.05"/>
<circle cx="389.8" cy="291.9" r="2.4" fill="#22507a" stroke="#0d0d0d" stroke-width="1.05"/>
<circle cx="393.8" cy="292.7" r="2.4" fill="#22507a" stroke="#0d0d0d" stroke-width="1.05"/>
<circle cx="412.8" cy="228.2" r="2.4" fill="#b8173c" stroke="#0d0d0d" stroke-width="1.05"/>
<circle cx="412.8" cy="234.2" r="2.4" fill="#b8173c" stroke="#0d0d0d" stroke-width="1.05"/>
<circle cx="414.5" cy="240.0" r="2.4" fill="#b8173c" stroke="#0d0d0d" stroke-width="1.05"/>
<circle cx="410.7" cy="242.3" r="2.4" fill="#b8173c" stroke="#0d0d0d" stroke-width="1.05"/>
<circle cx="415.6" cy="247.6" r="2.4" fill="#b8173c" stroke="#0d0d0d" stroke-width="1.05"/>
<circle cx="409.6" cy="251.3" r="2.4" fill="#b8173c" stroke="#0d0d0d" stroke-width="1.05"/>
<circle cx="414.0" cy="254.8" r="2.4" fill="#b8173c" stroke="#0d0d0d" stroke-width="1.05"/>
<circle cx="411.5" cy="256.1" r="2.4" fill="#b8173c" stroke="#0d0d0d" stroke-width="1.05"/>
<circle cx="414.8" cy="265.3" r="2.4" fill="#b8173c" stroke="#0d0d0d" stroke-width="1.05"/>
<circle cx="409.6" cy="269.4" r="2.4" fill="#b8173c" stroke="#0d0d0d" stroke-width="1.05"/>
<circle cx="413.5" cy="268.5" r="2.4" fill="#b8173c" stroke="#0d0d0d" stroke-width="1.05"/>
<circle cx="405.9" cy="274.2" r="2.4" fill="#b8173c" stroke="#0d0d0d" stroke-width="1.05"/>
<circle cx="411.5" cy="275.0" r="2.4" fill="#b8173c" stroke="#0d0d0d" stroke-width="1.05"/>
<circle cx="418.0" cy="275.8" r="2.4" fill="#b8173c" stroke="#0d0d0d" stroke-width="1.05"/>
<circle cx="406.7" cy="279.8" r="2.4" fill="#b8173c" stroke="#0d0d0d" stroke-width="1.05"/>
<circle cx="412.4" cy="279.8" r="2.4" fill="#b8173c" stroke="#0d0d0d" stroke-width="1.05"/>
<circle cx="418.0" cy="281.5" r="2.4" fill="#b8173c" stroke="#0d0d0d" stroke-width="1.05"/>
<circle cx="415.0" cy="278.0" r="2.4" fill="#b8173c" stroke="#0d0d0d" stroke-width="1.05"/>
<line x1="378.5" y1="275.0" x2="396.9" y2="275.0" stroke="#1a1a1a" stroke-width="1.15"/>
<line x1="387.7" y1="269.7" x2="387.7" y2="280.3" stroke="#1a1a1a" stroke-width="1.1"/>
<line x1="382.9" y1="269.7" x2="392.5" y2="269.7" stroke="#1a1a1a" stroke-width="1.1"/>
<line x1="382.9" y1="280.3" x2="392.5" y2="280.3" stroke="#1a1a1a" stroke-width="1.1"/>
<line x1="403.1" y1="262.1" x2="421.5" y2="262.1" stroke="#1a1a1a" stroke-width="1.15"/>
<line x1="412.3" y1="258.0" x2="412.3" y2="266.1" stroke="#1a1a1a" stroke-width="1.1"/>
<line x1="407.5" y1="258.0" x2="417.1" y2="258.0" stroke="#1a1a1a" stroke-width="1.1"/>
<line x1="407.5" y1="266.1" x2="417.1" y2="266.1" stroke="#1a1a1a" stroke-width="1.1"/>
<path d="M387.4,221.2 V214.0 H412.2 V221.2" fill="none" stroke="#1a1a1a" stroke-width="1.1"/>
<text x="399.79999999999995" y="211.6" font-size="6.2" font-weight="bold" text-anchor="middle" dominant-baseline="central" fill="#222">*</text>
<line x1="456.2" y1="201.0" x2="456.2" y2="299.65" stroke="#111" stroke-width="1.3"/>
<line x1="455.55" y1="299.0" x2="513.0" y2="299.0" stroke="#111" stroke-width="1.3"/>
<line x1="452.2" y1="299.0" x2="456.2" y2="299.0" stroke="#111" stroke-width="1.1"/>
<text x="449.8" y="299.2" font-size="6.8" font-weight="normal" text-anchor="end" dominant-baseline="central" fill="#1a1a1a">0</text>
<line x1="452.2" y1="267.3" x2="456.2" y2="267.3" stroke="#111" stroke-width="1.1"/>
<text x="449.8" y="267.5" font-size="6.8" font-weight="normal" text-anchor="end" dominant-baseline="central" fill="#1a1a1a">10</text>
<line x1="452.2" y1="235.6" x2="456.2" y2="235.6" stroke="#111" stroke-width="1.1"/>
<text x="449.8" y="235.79999999999998" font-size="6.8" font-weight="normal" text-anchor="end" dominant-baseline="central" fill="#1a1a1a">20</text>
<line x1="452.2" y1="203.9" x2="456.2" y2="203.9" stroke="#111" stroke-width="1.1"/>
<text x="449.8" y="204.1" font-size="6.8" font-weight="normal" text-anchor="end" dominant-baseline="central" fill="#1a1a1a">30</text>
<line x1="472.2" y1="299.0" x2="472.2" y2="301.6" stroke="#111" stroke-width="1.1"/>
<text x="472.2" y="308.0" font-size="6.8" font-weight="normal" text-anchor="middle" dominant-baseline="central" fill="#1a1a1a">Ctrl</text>
<line x1="497.0" y1="299.0" x2="497.0" y2="301.6" stroke="#111" stroke-width="1.1"/>
<text x="497.0" y="308.0" font-size="6.8" font-weight="normal" text-anchor="middle" dominant-baseline="central" fill="#1a1a1a">Abx</text>
<circle cx="472.0" cy="218.5" r="2.4" fill="#22507a" stroke="#0d0d0d" stroke-width="1.05"/>
<circle cx="475.3" cy="243.9" r="2.4" fill="#22507a" stroke="#0d0d0d" stroke-width="1.05"/>
<circle cx="472.0" cy="248.1" r="2.4" fill="#22507a" stroke="#0d0d0d" stroke-width="1.05"/>
<circle cx="472.0" cy="258.1" r="2.4" fill="#22507a" stroke="#0d0d0d" stroke-width="1.05"/>
<circle cx="472.0" cy="266.5" r="2.4" fill="#22507a" stroke="#0d0d0d" stroke-width="1.05"/>
<circle cx="472.0" cy="279.0" r="2.4" fill="#22507a" stroke="#0d0d0d" stroke-width="1.05"/>
<circle cx="466.7" cy="287.9" r="2.4" fill="#22507a" stroke="#0d0d0d" stroke-width="1.05"/>
<circle cx="472.0" cy="288.7" r="2.4" fill="#22507a" stroke="#0d0d0d" stroke-width="1.05"/>
<circle cx="478.0" cy="289.0" r="2.4" fill="#22507a" stroke="#0d0d0d" stroke-width="1.05"/>
<circle cx="469.1" cy="291.9" r="2.4" fill="#22507a" stroke="#0d0d0d" stroke-width="1.05"/>
<circle cx="474.8" cy="291.9" r="2.4" fill="#22507a" stroke="#0d0d0d" stroke-width="1.05"/>
<circle cx="465.9" cy="294.4" r="2.4" fill="#22507a" stroke="#0d0d0d" stroke-width="1.05"/>
<circle cx="472.0" cy="295.0" r="2.4" fill="#22507a" stroke="#0d0d0d" stroke-width="1.05"/>
<circle cx="478.0" cy="295.2" r="2.4" fill="#22507a" stroke="#0d0d0d" stroke-width="1.05"/>
<circle cx="499.8" cy="227.1" r="2.4" fill="#b8173c" stroke="#0d0d0d" stroke-width="1.05"/>
<circle cx="496.2" cy="229.8" r="2.4" fill="#b8173c" stroke="#0d0d0d" stroke-width="1.05"/>
<circle cx="493.3" cy="232.3" r="2.4" fill="#b8173c" stroke="#0d0d0d" stroke-width="1.05"/>
<circle cx="494.1" cy="243.2" r="2.4" fill="#b8173c" stroke="#0d0d0d" stroke-width="1.05"/>
<circle cx="497.4" cy="246.8" r="2.4" fill="#b8173c" stroke="#0d0d0d" stroke-width="1.05"/>
<circle cx="494.1" cy="251.6" r="2.4" fill="#b8173c" stroke="#0d0d0d" stroke-width="1.05"/>
<circle cx="499.8" cy="252.4" r="2.4" fill="#b8173c" stroke="#0d0d0d" stroke-width="1.05"/>
<circle cx="496.5" cy="255.6" r="2.4" fill="#b8173c" stroke="#0d0d0d" stroke-width="1.05"/>
<circle cx="493.5" cy="257.5" r="2.4" fill="#b8173c" stroke="#0d0d0d" stroke-width="1.05"/>
<circle cx="499.5" cy="260.5" r="2.4" fill="#b8173c" stroke="#0d0d0d" stroke-width="1.05"/>
<circle cx="493.3" cy="263.7" r="2.4" fill="#b8173c" stroke="#0d0d0d" stroke-width="1.05"/>
<circle cx="497.4" cy="264.5" r="2.4" fill="#b8173c" stroke="#0d0d0d" stroke-width="1.05"/>
<circle cx="499.8" cy="267.7" r="2.4" fill="#b8173c" stroke="#0d0d0d" stroke-width="1.05"/>
<circle cx="496.5" cy="269.7" r="2.4" fill="#b8173c" stroke="#0d0d0d" stroke-width="1.05"/>
<circle cx="490.9" cy="279.8" r="2.4" fill="#b8173c" stroke="#0d0d0d" stroke-width="1.05"/>
<circle cx="494.1" cy="277.4" r="2.4" fill="#b8173c" stroke="#0d0d0d" stroke-width="1.05"/>
<circle cx="499.0" cy="277.4" r="2.4" fill="#b8173c" stroke="#0d0d0d" stroke-width="1.05"/>
<circle cx="503.0" cy="281.5" r="2.4" fill="#b8173c" stroke="#0d0d0d" stroke-width="1.05"/>
<circle cx="501.5" cy="279.0" r="2.4" fill="#b8173c" stroke="#0d0d0d" stroke-width="1.05"/>
<line x1="463.0" y1="275.0" x2="481.4" y2="275.0" stroke="#1a1a1a" stroke-width="1.15"/>
<line x1="472.2" y1="268.5" x2="472.2" y2="281.5" stroke="#1a1a1a" stroke-width="1.1"/>
<line x1="467.4" y1="268.5" x2="477.0" y2="268.5" stroke="#1a1a1a" stroke-width="1.1"/>
<line x1="467.4" y1="281.5" x2="477.0" y2="281.5" stroke="#1a1a1a" stroke-width="1.1"/>
<line x1="487.8" y1="258.9" x2="506.2" y2="258.9" stroke="#1a1a1a" stroke-width="1.15"/>
<line x1="497.0" y1="255.0" x2="497.0" y2="262.8" stroke="#1a1a1a" stroke-width="1.1"/>
<line x1="492.2" y1="255.0" x2="501.8" y2="255.0" stroke="#1a1a1a" stroke-width="1.1"/>
<line x1="492.2" y1="262.8" x2="501.8" y2="262.8" stroke="#1a1a1a" stroke-width="1.1"/>
<path d="M472.2,214.5 V207.3 H497.0 V221.2" fill="none" stroke="#1a1a1a" stroke-width="1.1"/>
<text x="484.6" y="205.1" font-size="6.2" font-weight="bold" text-anchor="middle" dominant-baseline="central" fill="#222">*</text>
<line x1="37.4" y1="354.3" x2="37.4" y2="448.45" stroke="#111" stroke-width="1.3"/>
<line x1="36.75" y1="447.8" x2="91.7" y2="447.8" stroke="#111" stroke-width="1.3"/>
<line x1="33.4" y1="447.8" x2="37.4" y2="447.8" stroke="#111" stroke-width="1.1"/>
<text x="31.0" y="448.0" font-size="6.8" font-weight="normal" text-anchor="end" dominant-baseline="central" fill="#1a1a1a">0</text>
<line x1="33.4" y1="429.78000000000003" x2="37.4" y2="429.78000000000003" stroke="#111" stroke-width="1.1"/>
<text x="31.0" y="429.98" font-size="6.8" font-weight="normal" text-anchor="end" dominant-baseline="central" fill="#1a1a1a">20</text>
<line x1="33.4" y1="411.76" x2="37.4" y2="411.76" stroke="#111" stroke-width="1.1"/>
<text x="31.0" y="411.96" font-size="6.8" font-weight="normal" text-anchor="end" dominant-baseline="central" fill="#1a1a1a">40</text>
<line x1="33.4" y1="393.74" x2="37.4" y2="393.74" stroke="#111" stroke-width="1.1"/>
<text x="31.0" y="393.94" font-size="6.8" font-weight="normal" text-anchor="end" dominant-baseline="central" fill="#1a1a1a">60</text>
<line x1="33.4" y1="375.72" x2="37.4" y2="375.72" stroke="#111" stroke-width="1.1"/>
<text x="31.0" y="375.92" font-size="6.8" font-weight="normal" text-anchor="end" dominant-baseline="central" fill="#1a1a1a">80</text>
<line x1="33.4" y1="357.7" x2="37.4" y2="357.7" stroke="#111" stroke-width="1.1"/>
<text x="31.0" y="357.9" font-size="6.8" font-weight="normal" text-anchor="end" dominant-baseline="central" fill="#1a1a1a">100</text>
<line x1="52.6" y1="447.8" x2="52.6" y2="450.40000000000003" stroke="#111" stroke-width="1.1"/>
<text x="52.6" y="457.0" font-size="6.8" font-weight="normal" text-anchor="middle" dominant-baseline="central" fill="#1a1a1a">Ctrl</text>
<line x1="76.2" y1="447.8" x2="76.2" y2="450.40000000000003" stroke="#111" stroke-width="1.1"/>
<text x="76.2" y="457.0" font-size="6.8" font-weight="normal" text-anchor="middle" dominant-baseline="central" fill="#1a1a1a">Abx</text>
<circle cx="47.1" cy="376.1" r="2.4" fill="#22507a" stroke="#0d0d0d" stroke-width="1.05"/>
<circle cx="53.1" cy="374.5" r="2.4" fill="#22507a" stroke="#0d0d0d" stroke-width="1.05"/>
<circle cx="58.9" cy="379.0" r="2.4" fill="#22507a" stroke="#0d0d0d" stroke-width="1.05"/>
<circle cx="53.1" cy="382.3" r="2.4" fill="#22507a" stroke="#0d0d0d" stroke-width="1.05"/>
<circle cx="53.1" cy="386.8" r="2.4" fill="#22507a" stroke="#0d0d0d" stroke-width="1.05"/>
<circle cx="58.9" cy="393.5" r="2.4" fill="#22507a" stroke="#0d0d0d" stroke-width="1.05"/>
<circle cx="47.6" cy="398.1" r="2.4" fill="#22507a" stroke="#0d0d0d" stroke-width="1.05"/>
<circle cx="53.1" cy="400.3" r="2.4" fill="#22507a" stroke="#0d0d0d" stroke-width="1.05"/>
<circle cx="47.6" cy="402.9" r="2.4" fill="#22507a" stroke="#0d0d0d" stroke-width="1.05"/>
<circle cx="53.1" cy="408.9" r="2.4" fill="#22507a" stroke="#0d0d0d" stroke-width="1.05"/>
<circle cx="47.6" cy="413.2" r="2.4" fill="#22507a" stroke="#0d0d0d" stroke-width="1.05"/>
<circle cx="58.9" cy="414.5" r="2.4" fill="#22507a" stroke="#0d0d0d" stroke-width="1.05"/>
<circle cx="50.3" cy="425.5" r="2.4" fill="#22507a" stroke="#0d0d0d" stroke-width="1.05"/>
<circle cx="55.6" cy="425.0" r="2.4" fill="#22507a" stroke="#0d0d0d" stroke-width="1.05"/>
<circle cx="76.6" cy="375.8" r="2.4" fill="#b8173c" stroke="#0d0d0d" stroke-width="1.05"/>
<circle cx="76.6" cy="381.0" r="2.4" fill="#b8173c" stroke="#0d0d0d" stroke-width="1.05"/>
<circle cx="76.6" cy="390.0" r="2.4" fill="#b8173c" stroke="#0d0d0d" stroke-width="1.05"/>
<circle cx="76.6" cy="404.8" r="2.4" fill="#b8173c" stroke="#0d0d0d" stroke-width="1.05"/>
<circle cx="70.8" cy="409.7" r="2.4" fill="#b8173c" stroke="#0d0d0d" stroke-width="1.05"/>
<circle cx="81.8" cy="412.1" r="2.4" fill="#b8173c" stroke="#0d0d0d" stroke-width="1.05"/>
<circle cx="76.6" cy="413.2" r="2.4" fill="#b8173c" stroke="#0d0d0d" stroke-width="1.05"/>
<circle cx="70.8" cy="416.1" r="2.4" fill="#b8173c" stroke="#0d0d0d" stroke-width="1.05"/>
<circle cx="76.6" cy="419.4" r="2.4" fill="#b8173c" stroke="#0d0d0d" stroke-width="1.05"/>
<circle cx="81.8" cy="424.5" r="2.4" fill="#b8173c" stroke="#0d0d0d" stroke-width="1.05"/>
<circle cx="70.8" cy="427.4" r="2.4" fill="#b8173c" stroke="#0d0d0d" stroke-width="1.05"/>
<circle cx="76.6" cy="429.0" r="2.4" fill="#b8173c" stroke="#0d0d0d" stroke-width="1.05"/>
<circle cx="70.8" cy="441.6" r="2.4" fill="#b8173c" stroke="#0d0d0d" stroke-width="1.05"/>
<circle cx="76.6" cy="439.5" r="2.4" fill="#b8173c" stroke="#0d0d0d" stroke-width="1.05"/>
<circle cx="81.8" cy="440.0" r="2.4" fill="#b8173c" stroke="#0d0d0d" stroke-width="1.05"/>
<line x1="43.900000000000006" y1="398.4" x2="62.3" y2="398.4" stroke="#1a1a1a" stroke-width="1.15"/>
<line x1="53.1" y1="393.5" x2="53.1" y2="403.2" stroke="#1a1a1a" stroke-width="1.1"/>
<line x1="48.300000000000004" y1="393.5" x2="57.9" y2="393.5" stroke="#1a1a1a" stroke-width="1.1"/>
<line x1="48.300000000000004" y1="403.2" x2="57.9" y2="403.2" stroke="#1a1a1a" stroke-width="1.1"/>
<line x1="67.39999999999999" y1="414.5" x2="85.8" y2="414.5" stroke="#1a1a1a" stroke-width="1.15"/>
<line x1="76.6" y1="410.5" x2="76.6" y2="418.5" stroke="#1a1a1a" stroke-width="1.1"/>
<line x1="71.8" y1="410.5" x2="81.39999999999999" y2="410.5" stroke="#1a1a1a" stroke-width="1.1"/>
<line x1="71.8" y1="418.5" x2="81.39999999999999" y2="418.5" stroke="#1a1a1a" stroke-width="1.1"/>
<path d="M52.6,370.1 V364.0 H76.2 V370.1" fill="none" stroke="#1a1a1a" stroke-width="1.1"/>
<text x="64.4" y="361.6" font-size="6.2" font-weight="bold" text-anchor="middle" dominant-baseline="central" fill="#222">*</text>
<text transform="translate(11.1,398.8) rotate(-90)" x="0" y="0" font-size="8.7" font-weight="normal" text-anchor="middle" dominant-baseline="central" fill="#1a1a1a" textLength="36.4" lengthAdjust="spacingAndGlyphs" stroke="#1a1a1a" stroke-width="0.25">Live cells (%)</text>
<line x1="128.0" y1="351.6" x2="128.0" y2="448.45" stroke="#111" stroke-width="1.3"/>
<line x1="127.35" y1="447.8" x2="184.0" y2="447.8" stroke="#111" stroke-width="1.3"/>
<line x1="124.0" y1="447.8" x2="128.0" y2="447.8" stroke="#111" stroke-width="1.1"/>
<text x="121.6" y="448.0" font-size="6.8" font-weight="normal" text-anchor="end" dominant-baseline="central" fill="#1a1a1a">0</text>
<line x1="124.0" y1="429.1" x2="128.0" y2="429.1" stroke="#111" stroke-width="1.1"/>
<text x="121.6" y="429.3" font-size="6.8" font-weight="normal" text-anchor="end" dominant-baseline="central" fill="#1a1a1a">10</text>
<line x1="124.0" y1="410.40000000000003" x2="128.0" y2="410.40000000000003" stroke="#111" stroke-width="1.1"/>
<text x="121.6" y="410.6" font-size="6.8" font-weight="normal" text-anchor="end" dominant-baseline="central" fill="#1a1a1a">20</text>
<line x1="124.0" y1="391.7" x2="128.0" y2="391.7" stroke="#111" stroke-width="1.1"/>
<text x="121.6" y="391.9" font-size="6.8" font-weight="normal" text-anchor="end" dominant-baseline="central" fill="#1a1a1a">30</text>
<line x1="124.0" y1="373.0" x2="128.0" y2="373.0" stroke="#111" stroke-width="1.1"/>
<text x="121.6" y="373.2" font-size="6.8" font-weight="normal" text-anchor="end" dominant-baseline="central" fill="#1a1a1a">40</text>
<line x1="124.0" y1="354.3" x2="128.0" y2="354.3" stroke="#111" stroke-width="1.1"/>
<text x="121.6" y="354.5" font-size="6.8" font-weight="normal" text-anchor="end" dominant-baseline="central" fill="#1a1a1a">50</text>
<line x1="144.1" y1="447.8" x2="144.1" y2="450.40000000000003" stroke="#111" stroke-width="1.1"/>
<text x="144.1" y="457.0" font-size="6.8" font-weight="normal" text-anchor="middle" dominant-baseline="central" fill="#1a1a1a">Ctrl</text>
<line x1="168.3" y1="447.8" x2="168.3" y2="450.40000000000003" stroke="#111" stroke-width="1.1"/>
<text x="168.3" y="457.0" font-size="6.8" font-weight="normal" text-anchor="middle" dominant-baseline="central" fill="#1a1a1a">Abx</text>
<circle cx="144.0" cy="373.4" r="2.4" fill="#22507a" stroke="#0d0d0d" stroke-width="1.05"/>
<circle cx="144.0" cy="397.1" r="2.4" fill="#22507a" stroke="#0d0d0d" stroke-width="1.05"/>
<circle cx="144.0" cy="408.9" r="2.4" fill="#22507a" stroke="#0d0d0d" stroke-width="1.05"/>
<circle cx="138.2" cy="428.2" r="2.4" fill="#22507a" stroke="#0d0d0d" stroke-width="1.05"/>
<circle cx="145.2" cy="427.4" r="2.4" fill="#22507a" stroke="#0d0d0d" stroke-width="1.05"/>
<circle cx="150.0" cy="429.8" r="2.4" fill="#22507a" stroke="#0d0d0d" stroke-width="1.05"/>
<circle cx="141.5" cy="432.0" r="2.4" fill="#22507a" stroke="#0d0d0d" stroke-width="1.05"/>
<circle cx="138.7" cy="435.5" r="2.4" fill="#22507a" stroke="#0d0d0d" stroke-width="1.05"/>
<circle cx="145.0" cy="433.5" r="2.4" fill="#22507a" stroke="#0d0d0d" stroke-width="1.05"/>
<circle cx="149.2" cy="434.7" r="2.4" fill="#22507a" stroke="#0d0d0d" stroke-width="1.05"/>
<circle cx="142.7" cy="437.9" r="2.4" fill="#22507a" stroke="#0d0d0d" stroke-width="1.05"/>
<circle cx="146.8" cy="438.4" r="2.4" fill="#22507a" stroke="#0d0d0d" stroke-width="1.05"/>
<circle cx="138.2" cy="441.9" r="2.4" fill="#22507a" stroke="#0d0d0d" stroke-width="1.05"/>
<circle cx="150.0" cy="440.0" r="2.4" fill="#22507a" stroke="#0d0d0d" stroke-width="1.05"/>
<circle cx="146.0" cy="444.4" r="2.4" fill="#22507a" stroke="#0d0d0d" stroke-width="1.05"/>
<circle cx="142.4" cy="446.8" r="2.4" fill="#22507a" stroke="#0d0d0d" stroke-width="1.05"/>
<circle cx="168.2" cy="379.4" r="2.4" fill="#b8173c" stroke="#0d0d0d" stroke-width="1.05"/>
<circle cx="168.2" cy="406.8" r="2.4" fill="#b8173c" stroke="#0d0d0d" stroke-width="1.05"/>
<circle cx="168.2" cy="412.1" r="2.4" fill="#b8173c" stroke="#0d0d0d" stroke-width="1.05"/>
<circle cx="168.9" cy="418.5" r="2.4" fill="#b8173c" stroke="#0d0d0d" stroke-width="1.05"/>
<circle cx="163.7" cy="423.4" r="2.4" fill="#b8173c" stroke="#0d0d0d" stroke-width="1.05"/>
<circle cx="171.8" cy="422.6" r="2.4" fill="#b8173c" stroke="#0d0d0d" stroke-width="1.05"/>
<circle cx="167.5" cy="425.5" r="2.4" fill="#b8173c" stroke="#0d0d0d" stroke-width="1.05"/>
<circle cx="174.2" cy="425.0" r="2.4" fill="#b8173c" stroke="#0d0d0d" stroke-width="1.05"/>
<circle cx="165.3" cy="429.0" r="2.4" fill="#b8173c" stroke="#0d0d0d" stroke-width="1.05"/>
<circle cx="171.8" cy="429.0" r="2.4" fill="#b8173c" stroke="#0d0d0d" stroke-width="1.05"/>
<circle cx="168.5" cy="431.5" r="2.4" fill="#b8173c" stroke="#0d0d0d" stroke-width="1.05"/>
<circle cx="164.5" cy="434.7" r="2.4" fill="#b8173c" stroke="#0d0d0d" stroke-width="1.05"/>
<circle cx="171.0" cy="434.7" r="2.4" fill="#b8173c" stroke="#0d0d0d" stroke-width="1.05"/>
<line x1="134.8" y1="429.0" x2="153.2" y2="429.0" stroke="#1a1a1a" stroke-width="1.15"/>
<line x1="144.0" y1="421.8" x2="144.0" y2="436.0" stroke="#1a1a1a" stroke-width="1.1"/>
<line x1="139.2" y1="421.8" x2="148.8" y2="421.8" stroke="#1a1a1a" stroke-width="1.1"/>
<line x1="139.2" y1="436.0" x2="148.8" y2="436.0" stroke="#1a1a1a" stroke-width="1.1"/>
<line x1="159.10000000000002" y1="421.0" x2="177.5" y2="421.0" stroke="#1a1a1a" stroke-width="1.15"/>
<line x1="168.3" y1="418.0" x2="168.3" y2="424.5" stroke="#1a1a1a" stroke-width="1.1"/>
<line x1="163.5" y1="418.0" x2="173.10000000000002" y2="418.0" stroke="#1a1a1a" stroke-width="1.1"/>
<line x1="163.5" y1="424.5" x2="173.10000000000002" y2="424.5" stroke="#1a1a1a" stroke-width="1.1"/>
<path d="M144.1,366.7 V361.5 H168.3 V372.4" fill="none" stroke="#1a1a1a" stroke-width="1.1"/>
<text x="156.2" y="359.6" font-size="6.2" font-weight="bold" text-anchor="middle" dominant-baseline="central" fill="#222">*</text>
<text transform="translate(106.6,396.7) rotate(-90)" x="0" y="0" font-size="8.7" font-weight="normal" text-anchor="middle" dominant-baseline="central" fill="#1a1a1a" textLength="74.5" lengthAdjust="spacingAndGlyphs" stroke="#1a1a1a" stroke-width="0.25">Annexin V positive cells (%)</text>
<line x1="226.6" y1="352.0" x2="226.6" y2="448.45" stroke="#111" stroke-width="1.3"/>
<line x1="225.95" y1="447.8" x2="282.3" y2="447.8" stroke="#111" stroke-width="1.3"/>
<line x1="222.6" y1="447.8" x2="226.6" y2="447.8" stroke="#111" stroke-width="1.1"/>
<text x="220.2" y="448.0" font-size="6.8" font-weight="normal" text-anchor="end" dominant-baseline="central" fill="#1a1a1a">0</text>
<line x1="222.6" y1="424.6" x2="226.6" y2="424.6" stroke="#111" stroke-width="1.1"/>
<text x="220.2" y="424.8" font-size="6.8" font-weight="normal" text-anchor="end" dominant-baseline="central" fill="#1a1a1a">20</text>
<line x1="222.6" y1="401.4" x2="226.6" y2="401.4" stroke="#111" stroke-width="1.1"/>
<text x="220.2" y="401.59999999999997" font-size="6.8" font-weight="normal" text-anchor="end" dominant-baseline="central" fill="#1a1a1a">40</text>
<line x1="222.6" y1="378.2" x2="226.6" y2="378.2" stroke="#111" stroke-width="1.1"/>
<text x="220.2" y="378.4" font-size="6.8" font-weight="normal" text-anchor="end" dominant-baseline="central" fill="#1a1a1a">60</text>
<line x1="222.6" y1="355.0" x2="226.6" y2="355.0" stroke="#111" stroke-width="1.1"/>
<text x="220.2" y="355.2" font-size="6.8" font-weight="normal" text-anchor="end" dominant-baseline="central" fill="#1a1a1a">80</text>
<line x1="242.4" y1="447.8" x2="242.4" y2="450.40000000000003" stroke="#111" stroke-width="1.1"/>
<text x="242.4" y="457.0" font-size="6.8" font-weight="normal" text-anchor="middle" dominant-baseline="central" fill="#1a1a1a">Ctrl</text>
<line x1="266.7" y1="447.8" x2="266.7" y2="450.40000000000003" stroke="#111" stroke-width="1.1"/>
<text x="266.7" y="457.0" font-size="6.8" font-weight="normal" text-anchor="middle" dominant-baseline="central" fill="#1a1a1a">Abx</text>
<circle cx="237.3" cy="371.0" r="2.4" fill="#22507a" stroke="#0d0d0d" stroke-width="1.05"/>
<circle cx="243.8" cy="370.2" r="2.4" fill="#22507a" stroke="#0d0d0d" stroke-width="1.05"/>
<circle cx="247.8" cy="373.9" r="2.4" fill="#22507a" stroke="#0d0d0d" stroke-width="1.05"/>
<circle cx="240.5" cy="373.4" r="2.4" fill="#22507a" stroke="#0d0d0d" stroke-width="1.05"/>
<circle cx="237.3" cy="375.8" r="2.4" fill="#22507a" stroke="#0d0d0d" stroke-width="1.05"/>
<circle cx="243.0" cy="376.6" r="2.4" fill="#22507a" stroke="#0d0d0d" stroke-width="1.05"/>
<circle cx="247.0" cy="379.0" r="2.4" fill="#22507a" stroke="#0d0d0d" stroke-width="1.05"/>
<circle cx="238.9" cy="380.6" r="2.4" fill="#22507a" stroke="#0d0d0d" stroke-width="1.05"/>
<circle cx="243.5" cy="381.0" r="2.4" fill="#22507a" stroke="#0d0d0d" stroke-width="1.05"/>
<circle cx="239.7" cy="383.1" r="2.4" fill="#22507a" stroke="#0d0d0d" stroke-width="1.05"/>
<circle cx="246.2" cy="383.1" r="2.4" fill="#22507a" stroke="#0d0d0d" stroke-width="1.05"/>
<circle cx="242.2" cy="384.7" r="2.4" fill="#22507a" stroke="#0d0d0d" stroke-width="1.05"/>
<circle cx="242.6" cy="388.7" r="2.4" fill="#22507a" stroke="#0d0d0d" stroke-width="1.05"/>
<circle cx="242.6" cy="428.2" r="2.4" fill="#22507a" stroke="#0d0d0d" stroke-width="1.05"/>
<circle cx="266.4" cy="375.8" r="2.4" fill="#b8173c" stroke="#0d0d0d" stroke-width="1.05"/>
<circle cx="267.2" cy="379.8" r="2.4" fill="#b8173c" stroke="#0d0d0d" stroke-width="1.05"/>
<circle cx="261.5" cy="383.1" r="2.4" fill="#b8173c" stroke="#0d0d0d" stroke-width="1.05"/>
<circle cx="266.5" cy="383.0" r="2.4" fill="#b8173c" stroke="#0d0d0d" stroke-width="1.05"/>
<circle cx="272.0" cy="383.9" r="2.4" fill="#b8173c" stroke="#0d0d0d" stroke-width="1.05"/>
<circle cx="264.0" cy="385.5" r="2.4" fill="#b8173c" stroke="#0d0d0d" stroke-width="1.05"/>
<circle cx="269.5" cy="386.0" r="2.4" fill="#b8173c" stroke="#0d0d0d" stroke-width="1.05"/>
<circle cx="266.4" cy="388.7" r="2.4" fill="#b8173c" stroke="#0d0d0d" stroke-width="1.05"/>
<circle cx="266.4" cy="394.4" r="2.4" fill="#b8173c" stroke="#0d0d0d" stroke-width="1.05"/>
<circle cx="266.4" cy="398.4" r="2.4" fill="#b8173c" stroke="#0d0d0d" stroke-width="1.05"/>
<circle cx="266.4" cy="402.9" r="2.4" fill="#b8173c" stroke="#0d0d0d" stroke-width="1.05"/>
<circle cx="266.8" cy="433.5" r="2.4" fill="#b8173c" stroke="#0d0d0d" stroke-width="1.05"/>
<line x1="233.20000000000002" y1="380.6" x2="251.6" y2="380.6" stroke="#1a1a1a" stroke-width="1.15"/>
<line x1="242.4" y1="378.5" x2="242.4" y2="383.0" stroke="#1a1a1a" stroke-width="1.1"/>
<line x1="237.6" y1="378.5" x2="247.20000000000002" y2="378.5" stroke="#1a1a1a" stroke-width="1.1"/>
<line x1="237.6" y1="383.0" x2="247.20000000000002" y2="383.0" stroke="#1a1a1a" stroke-width="1.1"/>
<line x1="257.5" y1="389.5" x2="275.9" y2="389.5" stroke="#1a1a1a" stroke-width="1.15"/>
<line x1="266.7" y1="385.5" x2="266.7" y2="393.5" stroke="#1a1a1a" stroke-width="1.1"/>
<line x1="261.9" y1="385.5" x2="271.5" y2="385.5" stroke="#1a1a1a" stroke-width="1.1"/>
<line x1="261.9" y1="393.5" x2="271.5" y2="393.5" stroke="#1a1a1a" stroke-width="1.1"/>
<path d="M242.4,365.6 V359.3 H266.7 V365.6" fill="none" stroke="#1a1a1a" stroke-width="1.1"/>
<text x="254.55" y="357.1" font-size="6.2" font-weight="bold" text-anchor="middle" dominant-baseline="central" fill="#222">**</text>
<text transform="translate(204.5,397.3) rotate(-90)" x="0" y="0" font-size="8.7" font-weight="normal" text-anchor="middle" dominant-baseline="central" fill="#1a1a1a" textLength="36.3" lengthAdjust="spacingAndGlyphs" stroke="#1a1a1a" stroke-width="0.25">Live cells (%)</text>
<line x1="318.1" y1="351.0" x2="318.1" y2="448.45" stroke="#111" stroke-width="1.3"/>
<line x1="317.45000000000005" y1="447.8" x2="375.2" y2="447.8" stroke="#111" stroke-width="1.3"/>
<line x1="314.1" y1="447.8" x2="318.1" y2="447.8" stroke="#111" stroke-width="1.1"/>
<text x="311.70000000000005" y="448.0" font-size="6.8" font-weight="normal" text-anchor="end" dominant-baseline="central" fill="#1a1a1a">0</text>
<line x1="314.1" y1="416.5" x2="318.1" y2="416.5" stroke="#111" stroke-width="1.1"/>
<text x="311.70000000000005" y="416.7" font-size="6.8" font-weight="normal" text-anchor="end" dominant-baseline="central" fill="#1a1a1a">20</text>
<line x1="314.1" y1="385.2" x2="318.1" y2="385.2" stroke="#111" stroke-width="1.1"/>
<text x="311.70000000000005" y="385.4" font-size="6.8" font-weight="normal" text-anchor="end" dominant-baseline="central" fill="#1a1a1a">40</text>
<line x1="314.1" y1="353.9" x2="318.1" y2="353.9" stroke="#111" stroke-width="1.1"/>
<text x="311.70000000000005" y="354.09999999999997" font-size="6.8" font-weight="normal" text-anchor="end" dominant-baseline="central" fill="#1a1a1a">60</text>
<line x1="334.8" y1="447.8" x2="334.8" y2="450.40000000000003" stroke="#111" stroke-width="1.1"/>
<text x="334.8" y="457.0" font-size="6.8" font-weight="normal" text-anchor="middle" dominant-baseline="central" fill="#1a1a1a">Ctrl</text>
<line x1="359.0" y1="447.8" x2="359.0" y2="450.40000000000003" stroke="#111" stroke-width="1.1"/>
<text x="359.0" y="457.0" font-size="6.8" font-weight="normal" text-anchor="middle" dominant-baseline="central" fill="#1a1a1a">Abx</text>
<line x1="325.6" y1="444.0" x2="344.0" y2="444.0" stroke="#1a1a1a" stroke-width="1.15"/>
<circle cx="333.6" cy="434.8" r="2.4" fill="#22507a" stroke="#0d0d0d" stroke-width="1.05"/>
<circle cx="336.0" cy="437.5" r="2.4" fill="#22507a" stroke="#0d0d0d" stroke-width="1.05"/>
<circle cx="331.1" cy="440.7" r="2.4" fill="#22507a" stroke="#0d0d0d" stroke-width="1.05"/>
<circle cx="337.5" cy="440.5" r="2.4" fill="#22507a" stroke="#0d0d0d" stroke-width="1.05"/>
<circle cx="328.5" cy="444.9" r="2.4" fill="#22507a" stroke="#0d0d0d" stroke-width="1.05"/>
<circle cx="333.6" cy="444.9" r="2.4" fill="#22507a" stroke="#0d0d0d" stroke-width="1.05"/>
<circle cx="340.4" cy="444.9" r="2.4" fill="#22507a" stroke="#0d0d0d" stroke-width="1.05"/>
<circle cx="336.5" cy="446.5" r="2.4" fill="#22507a" stroke="#0d0d0d" stroke-width="1.05"/>
<circle cx="357.0" cy="361.6" r="2.4" fill="#b8173c" stroke="#0d0d0d" stroke-width="1.05"/>
<circle cx="361.1" cy="360.2" r="2.4" fill="#b8173c" stroke="#0d0d0d" stroke-width="1.05"/>
<circle cx="359.4" cy="385.6" r="2.4" fill="#b8173c" stroke="#0d0d0d" stroke-width="1.05"/>
<circle cx="359.4" cy="395.5" r="2.4" fill="#b8173c" stroke="#0d0d0d" stroke-width="1.05"/>
<circle cx="357.3" cy="402.6" r="2.4" fill="#b8173c" stroke="#0d0d0d" stroke-width="1.05"/>
<circle cx="360.7" cy="405.6" r="2.4" fill="#b8173c" stroke="#0d0d0d" stroke-width="1.05"/>
<circle cx="354.0" cy="411.9" r="2.4" fill="#b8173c" stroke="#0d0d0d" stroke-width="1.05"/>
<circle cx="358.5" cy="411.0" r="2.4" fill="#b8173c" stroke="#0d0d0d" stroke-width="1.05"/>
<circle cx="365.0" cy="411.6" r="2.4" fill="#b8173c" stroke="#0d0d0d" stroke-width="1.05"/>
<circle cx="361.1" cy="414.4" r="2.4" fill="#b8173c" stroke="#0d0d0d" stroke-width="1.05"/>
<circle cx="357.3" cy="419.2" r="2.4" fill="#b8173c" stroke="#0d0d0d" stroke-width="1.05"/>
<circle cx="359.4" cy="436.4" r="2.4" fill="#b8173c" stroke="#0d0d0d" stroke-width="1.05"/>
<circle cx="359.4" cy="441.5" r="2.4" fill="#b8173c" stroke="#0d0d0d" stroke-width="1.05"/>
<circle cx="357.3" cy="446.3" r="2.4" fill="#b8173c" stroke="#0d0d0d" stroke-width="1.05"/>
<circle cx="361.5" cy="446.0" r="2.4" fill="#b8173c" stroke="#0d0d0d" stroke-width="1.05"/>
<line x1="349.8" y1="410.2" x2="368.2" y2="410.2" stroke="#1a1a1a" stroke-width="1.15"/>
<line x1="359.0" y1="406.0" x2="359.0" y2="414.5" stroke="#1a1a1a" stroke-width="1.1"/>
<line x1="354.2" y1="406.0" x2="363.8" y2="406.0" stroke="#1a1a1a" stroke-width="1.1"/>
<line x1="354.2" y1="414.5" x2="363.8" y2="414.5" stroke="#1a1a1a" stroke-width="1.1"/>
<path d="M334.8,430.0 V348.2 H359.0 V354.3" fill="none" stroke="#1a1a1a" stroke-width="1.1"/>
<text x="346.9" y="346.5" font-size="6.2" font-weight="bold" text-anchor="middle" dominant-baseline="central" fill="#222">***</text>
<text transform="translate(296.4,396.7) rotate(-90)" x="0" y="0" font-size="8.7" font-weight="normal" text-anchor="middle" dominant-baseline="central" fill="#1a1a1a" textLength="74.6" lengthAdjust="spacingAndGlyphs" stroke="#1a1a1a" stroke-width="0.25">Annexin V positive cells (%)</text>
<line x1="37.8" y1="504.3" x2="37.8" y2="599.9499999999999" stroke="#111" stroke-width="1.3"/>
<line x1="37.15" y1="599.3" x2="93.0" y2="599.3" stroke="#111" stroke-width="1.3"/>
<line x1="33.8" y1="599.3" x2="37.8" y2="599.3" stroke="#111" stroke-width="1.1"/>
<text x="31.4" y="599.5" font-size="6.8" font-weight="normal" text-anchor="end" dominant-baseline="central" fill="#1a1a1a">0</text>
<line x1="33.8" y1="568.4" x2="37.8" y2="568.4" stroke="#111" stroke-width="1.1"/>
<text x="31.4" y="568.6" font-size="6.8" font-weight="normal" text-anchor="end" dominant-baseline="central" fill="#1a1a1a">5</text>
<line x1="33.8" y1="537.5" x2="37.8" y2="537.5" stroke="#111" stroke-width="1.1"/>
<text x="31.4" y="537.7" font-size="6.8" font-weight="normal" text-anchor="end" dominant-baseline="central" fill="#1a1a1a">10</text>
<line x1="33.8" y1="506.6" x2="37.8" y2="506.6" stroke="#111" stroke-width="1.1"/>
<text x="31.4" y="506.8" font-size="6.8" font-weight="normal" text-anchor="end" dominant-baseline="central" fill="#1a1a1a">15</text>
<line x1="53.5" y1="599.3" x2="53.5" y2="601.9" stroke="#111" stroke-width="1.1"/>
<text x="53.5" y="609.2" font-size="6.8" font-weight="normal" text-anchor="middle" dominant-baseline="central" fill="#1a1a1a">Ctrl</text>
<line x1="77.8" y1="599.3" x2="77.8" y2="601.9" stroke="#111" stroke-width="1.1"/>
<text x="77.8" y="609.2" font-size="6.8" font-weight="normal" text-anchor="middle" dominant-baseline="central" fill="#1a1a1a">Abx</text>
<line x1="44.3" y1="586.5" x2="62.7" y2="586.5" stroke="#1a1a1a" stroke-width="1.15"/>
<line x1="53.5" y1="585.0" x2="53.5" y2="588.0" stroke="#1a1a1a" stroke-width="1.1"/>
<line x1="48.7" y1="585.0" x2="58.3" y2="585.0" stroke="#1a1a1a" stroke-width="1.1"/>
<line x1="48.7" y1="588.0" x2="58.3" y2="588.0" stroke="#1a1a1a" stroke-width="1.1"/>
<circle cx="53.5" cy="579.8" r="2.4" fill="#22507a" stroke="#0d0d0d" stroke-width="1.05"/>
<circle cx="50.3" cy="583.1" r="2.4" fill="#22507a" stroke="#0d0d0d" stroke-width="1.05"/>
<circle cx="56.0" cy="583.1" r="2.4" fill="#22507a" stroke="#0d0d0d" stroke-width="1.05"/>
<circle cx="47.1" cy="585.5" r="2.4" fill="#22507a" stroke="#0d0d0d" stroke-width="1.05"/>
<circle cx="53.2" cy="585.5" r="2.4" fill="#22507a" stroke="#0d0d0d" stroke-width="1.05"/>
<circle cx="59.2" cy="586.3" r="2.4" fill="#22507a" stroke="#0d0d0d" stroke-width="1.05"/>
<circle cx="50.3" cy="587.9" r="2.4" fill="#22507a" stroke="#0d0d0d" stroke-width="1.05"/>
<circle cx="56.0" cy="588.4" r="2.4" fill="#22507a" stroke="#0d0d0d" stroke-width="1.05"/>
<circle cx="47.1" cy="590.6" r="2.4" fill="#22507a" stroke="#0d0d0d" stroke-width="1.05"/>
<circle cx="53.1" cy="590.3" r="2.4" fill="#22507a" stroke="#0d0d0d" stroke-width="1.05"/>
<circle cx="58.9" cy="592.3" r="2.4" fill="#22507a" stroke="#0d0d0d" stroke-width="1.05"/>
<circle cx="77.3" cy="521.3" r="2.4" fill="#b8173c" stroke="#0d0d0d" stroke-width="1.05"/>
<circle cx="77.3" cy="536.8" r="2.4" fill="#b8173c" stroke="#0d0d0d" stroke-width="1.05"/>
<circle cx="74.0" cy="557.3" r="2.4" fill="#b8173c" stroke="#0d0d0d" stroke-width="1.05"/>
<circle cx="80.2" cy="555.6" r="2.4" fill="#b8173c" stroke="#0d0d0d" stroke-width="1.05"/>
<circle cx="71.8" cy="566.5" r="2.4" fill="#b8173c" stroke="#0d0d0d" stroke-width="1.05"/>
<circle cx="77.3" cy="565.8" r="2.4" fill="#b8173c" stroke="#0d0d0d" stroke-width="1.05"/>
<circle cx="83.1" cy="567.7" r="2.4" fill="#b8173c" stroke="#0d0d0d" stroke-width="1.05"/>
<circle cx="77.3" cy="571.3" r="2.4" fill="#b8173c" stroke="#0d0d0d" stroke-width="1.05"/>
<circle cx="74.0" cy="582.6" r="2.4" fill="#b8173c" stroke="#0d0d0d" stroke-width="1.05"/>
<circle cx="80.2" cy="583.1" r="2.4" fill="#b8173c" stroke="#0d0d0d" stroke-width="1.05"/>
<circle cx="77.3" cy="587.9" r="2.4" fill="#b8173c" stroke="#0d0d0d" stroke-width="1.05"/>
<circle cx="71.3" cy="591.1" r="2.4" fill="#b8173c" stroke="#0d0d0d" stroke-width="1.05"/>
<circle cx="83.1" cy="589.0" r="2.4" fill="#b8173c" stroke="#0d0d0d" stroke-width="1.05"/>
<line x1="68.3" y1="566.1" x2="86.7" y2="566.1" stroke="#1a1a1a" stroke-width="1.15"/>
<line x1="77.5" y1="561.6" x2="77.5" y2="573.4" stroke="#1a1a1a" stroke-width="1.1"/>
<line x1="72.7" y1="561.6" x2="82.3" y2="561.6" stroke="#1a1a1a" stroke-width="1.1"/>
<line x1="72.7" y1="573.4" x2="82.3" y2="573.4" stroke="#1a1a1a" stroke-width="1.1"/>
<path d="M53.5,574.3 V510.0 H77.8 V516.3" fill="none" stroke="#1a1a1a" stroke-width="1.1"/>
<text x="65.65" y="507.6" font-size="6.2" font-weight="bold" text-anchor="middle" dominant-baseline="central" fill="#222">**</text>
<text transform="translate(14.4,551.8) rotate(-90)" x="0" y="0" font-size="8.7" font-weight="normal" text-anchor="middle" dominant-baseline="central" fill="#1a1a1a" textLength="73.5" lengthAdjust="spacingAndGlyphs" stroke="#1a1a1a" stroke-width="0.25">FAM-FLICA positive cells (%)</text>
<line x1="125.6" y1="501.6" x2="125.6" y2="599.9499999999999" stroke="#111" stroke-width="1.3"/>
<line x1="124.94999999999999" y1="599.3" x2="182.7" y2="599.3" stroke="#111" stroke-width="1.3"/>
<line x1="121.6" y1="599.3" x2="125.6" y2="599.3" stroke="#111" stroke-width="1.1"/>
<text x="119.19999999999999" y="599.5" font-size="6.8" font-weight="normal" text-anchor="end" dominant-baseline="central" fill="#1a1a1a">0</text>
<line x1="121.6" y1="580.2199999999999" x2="125.6" y2="580.2199999999999" stroke="#111" stroke-width="1.1"/>
<text x="119.19999999999999" y="580.42" font-size="6.8" font-weight="normal" text-anchor="end" dominant-baseline="central" fill="#1a1a1a">2</text>
<line x1="121.6" y1="561.14" x2="125.6" y2="561.14" stroke="#111" stroke-width="1.1"/>
<text x="119.19999999999999" y="561.34" font-size="6.8" font-weight="normal" text-anchor="end" dominant-baseline="central" fill="#1a1a1a">4</text>
<line x1="121.6" y1="542.06" x2="125.6" y2="542.06" stroke="#111" stroke-width="1.1"/>
<text x="119.19999999999999" y="542.26" font-size="6.8" font-weight="normal" text-anchor="end" dominant-baseline="central" fill="#1a1a1a">6</text>
<line x1="121.6" y1="522.98" x2="125.6" y2="522.98" stroke="#111" stroke-width="1.1"/>
<text x="119.19999999999999" y="523.1800000000001" font-size="6.8" font-weight="normal" text-anchor="end" dominant-baseline="central" fill="#1a1a1a">8</text>
<line x1="121.6" y1="503.9" x2="125.6" y2="503.9" stroke="#111" stroke-width="1.1"/>
<text x="119.19999999999999" y="504.09999999999997" font-size="6.8" font-weight="normal" text-anchor="end" dominant-baseline="central" fill="#1a1a1a">10</text>
<line x1="142.3" y1="599.3" x2="142.3" y2="601.9" stroke="#111" stroke-width="1.1"/>
<text x="142.3" y="609.2" font-size="6.8" font-weight="normal" text-anchor="middle" dominant-baseline="central" fill="#1a1a1a">Ctrl</text>
<line x1="166.7" y1="599.3" x2="166.7" y2="601.9" stroke="#111" stroke-width="1.1"/>
<text x="166.7" y="609.2" font-size="6.8" font-weight="normal" text-anchor="middle" dominant-baseline="central" fill="#1a1a1a">Abx</text>
<line x1="133.10000000000002" y1="577.6" x2="151.5" y2="577.6" stroke="#1a1a1a" stroke-width="1.15"/>
<line x1="142.3" y1="575.5" x2="142.3" y2="579.8" stroke="#1a1a1a" stroke-width="1.1"/>
<line x1="137.5" y1="575.5" x2="147.10000000000002" y2="575.5" stroke="#1a1a1a" stroke-width="1.1"/>
<line x1="137.5" y1="579.8" x2="147.10000000000002" y2="579.8" stroke="#1a1a1a" stroke-width="1.1"/>
<circle cx="142.0" cy="561.6" r="2.4" fill="#22507a" stroke="#0d0d0d" stroke-width="1.05"/>
<circle cx="136.4" cy="574.6" r="2.4" fill="#22507a" stroke="#0d0d0d" stroke-width="1.05"/>
<circle cx="140.3" cy="573.7" r="2.4" fill="#22507a" stroke="#0d0d0d" stroke-width="1.05"/>
<circle cx="144.0" cy="573.2" r="2.4" fill="#22507a" stroke="#0d0d0d" stroke-width="1.05"/>
<circle cx="148.2" cy="574.6" r="2.4" fill="#22507a" stroke="#0d0d0d" stroke-width="1.05"/>
<circle cx="136.4" cy="578.8" r="2.4" fill="#22507a" stroke="#0d0d0d" stroke-width="1.05"/>
<circle cx="140.3" cy="577.5" r="2.4" fill="#22507a" stroke="#0d0d0d" stroke-width="1.05"/>
<circle cx="144.0" cy="578.0" r="2.4" fill="#22507a" stroke="#0d0d0d" stroke-width="1.05"/>
<circle cx="148.0" cy="578.5" r="2.4" fill="#22507a" stroke="#0d0d0d" stroke-width="1.05"/>
<circle cx="136.4" cy="582.2" r="2.4" fill="#22507a" stroke="#0d0d0d" stroke-width="1.05"/>
<circle cx="140.3" cy="581.4" r="2.4" fill="#22507a" stroke="#0d0d0d" stroke-width="1.05"/>
<circle cx="143.8" cy="582.5" r="2.4" fill="#22507a" stroke="#0d0d0d" stroke-width="1.05"/>
<circle cx="147.4" cy="583.1" r="2.4" fill="#22507a" stroke="#0d0d0d" stroke-width="1.05"/>
<circle cx="136.4" cy="586.4" r="2.4" fill="#22507a" stroke="#0d0d0d" stroke-width="1.05"/>
<circle cx="144.0" cy="585.6" r="2.4" fill="#22507a" stroke="#0d0d0d" stroke-width="1.05"/>
<circle cx="166.4" cy="514.0" r="2.4" fill="#b8173c" stroke="#0d0d0d" stroke-width="1.05"/>
<circle cx="164.3" cy="530.6" r="2.4" fill="#b8173c" stroke="#0d0d0d" stroke-width="1.05"/>
<circle cx="168.6" cy="528.0" r="2.4" fill="#b8173c" stroke="#0d0d0d" stroke-width="1.05"/>
<circle cx="164.3" cy="550.5" r="2.4" fill="#b8173c" stroke="#0d0d0d" stroke-width="1.05"/>
<circle cx="168.6" cy="550.5" r="2.4" fill="#b8173c" stroke="#0d0d0d" stroke-width="1.05"/>
<circle cx="172.5" cy="546.7" r="2.4" fill="#b8173c" stroke="#0d0d0d" stroke-width="1.05"/>
<circle cx="166.4" cy="557.3" r="2.4" fill="#b8173c" stroke="#0d0d0d" stroke-width="1.05"/>
<circle cx="164.3" cy="576.0" r="2.4" fill="#b8173c" stroke="#0d0d0d" stroke-width="1.05"/>
<circle cx="160.6" cy="580.5" r="2.4" fill="#b8173c" stroke="#0d0d0d" stroke-width="1.05"/>
<circle cx="168.6" cy="580.5" r="2.4" fill="#b8173c" stroke="#0d0d0d" stroke-width="1.05"/>
<circle cx="172.5" cy="578.3" r="2.4" fill="#b8173c" stroke="#0d0d0d" stroke-width="1.05"/>
<circle cx="164.3" cy="587.3" r="2.4" fill="#b8173c" stroke="#0d0d0d" stroke-width="1.05"/>
<circle cx="168.6" cy="587.3" r="2.4" fill="#b8173c" stroke="#0d0d0d" stroke-width="1.05"/>
<line x1="157.3" y1="559.0" x2="175.7" y2="559.0" stroke="#1a1a1a" stroke-width="1.15"/>
<line x1="166.5" y1="552.5" x2="166.5" y2="565.8" stroke="#1a1a1a" stroke-width="1.1"/>
<line x1="161.7" y1="552.5" x2="171.3" y2="552.5" stroke="#1a1a1a" stroke-width="1.1"/>
<line x1="161.7" y1="565.8" x2="171.3" y2="565.8" stroke="#1a1a1a" stroke-width="1.1"/>
<path d="M142.3,555.1 V502.5 H166.7 V507.7" fill="none" stroke="#1a1a1a" stroke-width="1.1"/>
<text x="154.5" y="496.4" font-size="6.6" font-weight="normal" text-anchor="middle" dominant-baseline="central" fill="#222">ns</text>
<line x1="206.3" y1="502.0" x2="206.3" y2="599.9499999999999" stroke="#111" stroke-width="1.3"/>
<line x1="205.65" y1="599.3" x2="263.1" y2="599.3" stroke="#111" stroke-width="1.3"/>
<line x1="202.3" y1="599.3" x2="206.3" y2="599.3" stroke="#111" stroke-width="1.1"/>
<text x="199.9" y="599.5" font-size="6.8" font-weight="normal" text-anchor="end" dominant-baseline="central" fill="#1a1a1a">0</text>
<line x1="202.3" y1="575.7249999999999" x2="206.3" y2="575.7249999999999" stroke="#111" stroke-width="1.1"/>
<text x="199.9" y="575.925" font-size="6.8" font-weight="normal" text-anchor="end" dominant-baseline="central" fill="#1a1a1a">20</text>
<line x1="202.3" y1="552.15" x2="206.3" y2="552.15" stroke="#111" stroke-width="1.1"/>
<text x="199.9" y="552.35" font-size="6.8" font-weight="normal" text-anchor="end" dominant-baseline="central" fill="#1a1a1a">40</text>
<line x1="202.3" y1="528.575" x2="206.3" y2="528.575" stroke="#111" stroke-width="1.1"/>
<text x="199.9" y="528.7750000000001" font-size="6.8" font-weight="normal" text-anchor="end" dominant-baseline="central" fill="#1a1a1a">60</text>
<line x1="202.3" y1="505.0" x2="206.3" y2="505.0" stroke="#111" stroke-width="1.1"/>
<text x="199.9" y="505.2" font-size="6.8" font-weight="normal" text-anchor="end" dominant-baseline="central" fill="#1a1a1a">80</text>
<line x1="222.4" y1="599.3" x2="222.4" y2="601.9" stroke="#111" stroke-width="1.1"/>
<text x="222.4" y="609.2" font-size="6.8" font-weight="normal" text-anchor="middle" dominant-baseline="central" fill="#1a1a1a">Ctrl</text>
<line x1="247.2" y1="599.3" x2="247.2" y2="601.9" stroke="#111" stroke-width="1.1"/>
<text x="247.2" y="609.2" font-size="6.8" font-weight="normal" text-anchor="middle" dominant-baseline="central" fill="#1a1a1a">Abx</text>
<circle cx="222.5" cy="586.4" r="2.4" fill="#22507a" stroke="#0d0d0d" stroke-width="1.05"/>
<circle cx="219.9" cy="589.8" r="2.4" fill="#22507a" stroke="#0d0d0d" stroke-width="1.05"/>
<circle cx="224.2" cy="590.7" r="2.4" fill="#22507a" stroke="#0d0d0d" stroke-width="1.05"/>
<circle cx="217.4" cy="594.6" r="2.4" fill="#22507a" stroke="#0d0d0d" stroke-width="1.05"/>
<circle cx="222.5" cy="594.9" r="2.4" fill="#22507a" stroke="#0d0d0d" stroke-width="1.05"/>
<circle cx="227.6" cy="595.8" r="2.4" fill="#22507a" stroke="#0d0d0d" stroke-width="1.05"/>
<circle cx="220.5" cy="592.5" r="2.4" fill="#22507a" stroke="#0d0d0d" stroke-width="1.05"/>
<circle cx="247.0" cy="513.3" r="2.4" fill="#b8173c" stroke="#0d0d0d" stroke-width="1.05"/>
<circle cx="247.0" cy="521.8" r="2.4" fill="#b8173c" stroke="#0d0d0d" stroke-width="1.05"/>
<circle cx="243.6" cy="532.3" r="2.4" fill="#b8173c" stroke="#0d0d0d" stroke-width="1.05"/>
<circle cx="250.1" cy="532.6" r="2.4" fill="#b8173c" stroke="#0d0d0d" stroke-width="1.05"/>
<circle cx="246.7" cy="552.2" r="2.4" fill="#b8173c" stroke="#0d0d0d" stroke-width="1.05"/>
<circle cx="246.7" cy="556.8" r="2.4" fill="#b8173c" stroke="#0d0d0d" stroke-width="1.05"/>
<circle cx="244.0" cy="576.3" r="2.4" fill="#b8173c" stroke="#0d0d0d" stroke-width="1.05"/>
<circle cx="249.6" cy="576.3" r="2.4" fill="#b8173c" stroke="#0d0d0d" stroke-width="1.05"/>
<circle cx="241.6" cy="583.4" r="2.4" fill="#b8173c" stroke="#0d0d0d" stroke-width="1.05"/>
<circle cx="252.4" cy="583.9" r="2.4" fill="#b8173c" stroke="#0d0d0d" stroke-width="1.05"/>
<circle cx="247.0" cy="588.1" r="2.4" fill="#b8173c" stroke="#0d0d0d" stroke-width="1.05"/>
<circle cx="244.0" cy="594.1" r="2.4" fill="#b8173c" stroke="#0d0d0d" stroke-width="1.05"/>
<circle cx="249.6" cy="594.1" r="2.4" fill="#b8173c" stroke="#0d0d0d" stroke-width="1.05"/>
<line x1="238.0" y1="561.9" x2="256.4" y2="561.9" stroke="#1a1a1a" stroke-width="1.15"/>
<line x1="247.2" y1="534.0" x2="247.2" y2="590.0" stroke="#1a1a1a" stroke-width="1.1"/>
<line x1="242.39999999999998" y1="534.0" x2="252.0" y2="534.0" stroke="#1a1a1a" stroke-width="1.1"/>
<line x1="242.39999999999998" y1="590.0" x2="252.0" y2="590.0" stroke="#1a1a1a" stroke-width="1.1"/>
<path d="M222.4,586.7 V502.5 H247.2 V507.7" fill="none" stroke="#1a1a1a" stroke-width="1.1"/>
<text x="234.8" y="499.6" font-size="6.2" font-weight="bold" text-anchor="middle" dominant-baseline="central" fill="#222">***</text>
<line x1="286.0" y1="502.0" x2="286.0" y2="599.9499999999999" stroke="#111" stroke-width="1.3"/>
<line x1="285.35" y1="599.3" x2="343.1" y2="599.3" stroke="#111" stroke-width="1.3"/>
<line x1="282.0" y1="599.3" x2="286.0" y2="599.3" stroke="#111" stroke-width="1.1"/>
<text x="279.6" y="599.5" font-size="6.8" font-weight="normal" text-anchor="end" dominant-baseline="central" fill="#1a1a1a">0</text>
<line x1="282.0" y1="575.7249999999999" x2="286.0" y2="575.7249999999999" stroke="#111" stroke-width="1.1"/>
<text x="279.6" y="575.925" font-size="6.8" font-weight="normal" text-anchor="end" dominant-baseline="central" fill="#1a1a1a">10</text>
<line x1="282.0" y1="552.15" x2="286.0" y2="552.15" stroke="#111" stroke-width="1.1"/>
<text x="279.6" y="552.35" font-size="6.8" font-weight="normal" text-anchor="end" dominant-baseline="central" fill="#1a1a1a">20</text>
<line x1="282.0" y1="528.575" x2="286.0" y2="528.575" stroke="#111" stroke-width="1.1"/>
<text x="279.6" y="528.7750000000001" font-size="6.8" font-weight="normal" text-anchor="end" dominant-baseline="central" fill="#1a1a1a">30</text>
<line x1="282.0" y1="505.0" x2="286.0" y2="505.0" stroke="#111" stroke-width="1.1"/>
<text x="279.6" y="505.2" font-size="6.8" font-weight="normal" text-anchor="end" dominant-baseline="central" fill="#1a1a1a">40</text>
<line x1="302.4" y1="599.3" x2="302.4" y2="601.9" stroke="#111" stroke-width="1.1"/>
<text x="302.4" y="609.2" font-size="6.8" font-weight="normal" text-anchor="middle" dominant-baseline="central" fill="#1a1a1a">Ctrl</text>
<line x1="326.7" y1="599.3" x2="326.7" y2="601.9" stroke="#111" stroke-width="1.1"/>
<text x="326.7" y="609.2" font-size="6.8" font-weight="normal" text-anchor="middle" dominant-baseline="central" fill="#1a1a1a">Abx</text>
<circle cx="303.0" cy="559.0" r="2.4" fill="#22507a" stroke="#0d0d0d" stroke-width="1.05"/>
<circle cx="303.0" cy="566.5" r="2.4" fill="#22507a" stroke="#0d0d0d" stroke-width="1.05"/>
<circle cx="297.4" cy="572.9" r="2.4" fill="#22507a" stroke="#0d0d0d" stroke-width="1.05"/>
<circle cx="302.8" cy="574.0" r="2.4" fill="#22507a" stroke="#0d0d0d" stroke-width="1.05"/>
<circle cx="308.1" cy="573.2" r="2.4" fill="#22507a" stroke="#0d0d0d" stroke-width="1.05"/>
<circle cx="299.9" cy="576.0" r="2.4" fill="#22507a" stroke="#0d0d0d" stroke-width="1.05"/>
<circle cx="305.0" cy="576.3" r="2.4" fill="#22507a" stroke="#0d0d0d" stroke-width="1.05"/>
<circle cx="299.9" cy="591.2" r="2.4" fill="#22507a" stroke="#0d0d0d" stroke-width="1.05"/>
<circle cx="303.3" cy="593.2" r="2.4" fill="#22507a" stroke="#0d0d0d" stroke-width="1.05"/>
<circle cx="306.7" cy="592.9" r="2.4" fill="#22507a" stroke="#0d0d0d" stroke-width="1.05"/>
<circle cx="297.9" cy="593.2" r="2.4" fill="#22507a" stroke="#0d0d0d" stroke-width="1.05"/>
<circle cx="327.0" cy="516.2" r="2.4" fill="#b8173c" stroke="#0d0d0d" stroke-width="1.05"/>
<circle cx="326.7" cy="536.5" r="2.4" fill="#b8173c" stroke="#0d0d0d" stroke-width="1.05"/>
<circle cx="328.7" cy="541.6" r="2.4" fill="#b8173c" stroke="#0d0d0d" stroke-width="1.05"/>
<circle cx="325.0" cy="545.5" r="2.4" fill="#b8173c" stroke="#0d0d0d" stroke-width="1.05"/>
<circle cx="325.3" cy="568.7" r="2.4" fill="#b8173c" stroke="#0d0d0d" stroke-width="1.05"/>
<circle cx="328.5" cy="569.0" r="2.4" fill="#b8173c" stroke="#0d0d0d" stroke-width="1.05"/>
<circle cx="326.7" cy="573.7" r="2.4" fill="#b8173c" stroke="#0d0d0d" stroke-width="1.05"/>
<circle cx="328.7" cy="578.8" r="2.4" fill="#b8173c" stroke="#0d0d0d" stroke-width="1.05"/>
<circle cx="322.0" cy="583.1" r="2.4" fill="#b8173c" stroke="#0d0d0d" stroke-width="1.05"/>
<circle cx="325.3" cy="586.4" r="2.4" fill="#b8173c" stroke="#0d0d0d" stroke-width="1.05"/>
<circle cx="328.7" cy="587.3" r="2.4" fill="#b8173c" stroke="#0d0d0d" stroke-width="1.05"/>
<circle cx="333.0" cy="586.4" r="2.4" fill="#b8173c" stroke="#0d0d0d" stroke-width="1.05"/>
<line x1="293.2" y1="578.8" x2="311.59999999999997" y2="578.8" stroke="#1a1a1a" stroke-width="1.15"/>
<line x1="302.4" y1="574.6" x2="302.4" y2="582.7" stroke="#1a1a1a" stroke-width="1.1"/>
<line x1="297.59999999999997" y1="574.6" x2="307.2" y2="574.6" stroke="#1a1a1a" stroke-width="1.1"/>
<line x1="297.59999999999997" y1="582.7" x2="307.2" y2="582.7" stroke="#1a1a1a" stroke-width="1.1"/>
<line x1="317.5" y1="566.1" x2="335.9" y2="566.1" stroke="#1a1a1a" stroke-width="1.15"/>
<line x1="326.7" y1="559.4" x2="326.7" y2="572.7" stroke="#1a1a1a" stroke-width="1.1"/>
<line x1="321.9" y1="559.4" x2="331.5" y2="559.4" stroke="#1a1a1a" stroke-width="1.1"/>
<line x1="321.9" y1="572.7" x2="331.5" y2="572.7" stroke="#1a1a1a" stroke-width="1.1"/>
<path d="M302.4,565.2 V504.3 H326.7 V510.0" fill="none" stroke="#1a1a1a" stroke-width="1.1"/>
<text x="314.54999999999995" y="497.0" font-size="6.6" font-weight="normal" text-anchor="middle" dominant-baseline="central" fill="#222">ns</text>
<line x1="366.4" y1="501.0" x2="366.4" y2="599.9499999999999" stroke="#111" stroke-width="1.3"/>
<line x1="365.75" y1="599.3" x2="423.3" y2="599.3" stroke="#111" stroke-width="1.3"/>
<line x1="362.4" y1="599.3" x2="366.4" y2="599.3" stroke="#111" stroke-width="1.1"/>
<text x="360.0" y="599.5" font-size="6.8" font-weight="normal" text-anchor="end" dominant-baseline="central" fill="#1a1a1a">0</text>
<line x1="362.4" y1="567.5" x2="366.4" y2="567.5" stroke="#111" stroke-width="1.1"/>
<text x="360.0" y="567.7" font-size="6.8" font-weight="normal" text-anchor="end" dominant-baseline="central" fill="#1a1a1a">5</text>
<line x1="362.4" y1="535.6999999999999" x2="366.4" y2="535.6999999999999" stroke="#111" stroke-width="1.1"/>
<text x="360.0" y="535.9" font-size="6.8" font-weight="normal" text-anchor="end" dominant-baseline="central" fill="#1a1a1a">10</text>
<line x1="362.4" y1="503.9" x2="366.4" y2="503.9" stroke="#111" stroke-width="1.1"/>
<text x="360.0" y="504.09999999999997" font-size="6.8" font-weight="normal" text-anchor="end" dominant-baseline="central" fill="#1a1a1a">15</text>
<line x1="382.4" y1="599.3" x2="382.4" y2="601.9" stroke="#111" stroke-width="1.1"/>
<text x="382.4" y="609.2" font-size="6.8" font-weight="normal" text-anchor="middle" dominant-baseline="central" fill="#1a1a1a">Ctrl</text>
<line x1="407.2" y1="599.3" x2="407.2" y2="601.9" stroke="#111" stroke-width="1.1"/>
<text x="407.2" y="609.2" font-size="6.8" font-weight="normal" text-anchor="middle" dominant-baseline="central" fill="#1a1a1a">Abx</text>
<line x1="373.2" y1="590.0" x2="391.59999999999997" y2="590.0" stroke="#1a1a1a" stroke-width="1.15"/>
<circle cx="379.9" cy="582.7" r="2.4" fill="#22507a" stroke="#0d0d0d" stroke-width="1.05"/>
<circle cx="388.4" cy="582.7" r="2.4" fill="#22507a" stroke="#0d0d0d" stroke-width="1.05"/>
<circle cx="383.5" cy="585.0" r="2.4" fill="#22507a" stroke="#0d0d0d" stroke-width="1.05"/>
<circle cx="376.5" cy="587.8" r="2.4" fill="#22507a" stroke="#0d0d0d" stroke-width="1.05"/>
<circle cx="382.0" cy="588.5" r="2.4" fill="#22507a" stroke="#0d0d0d" stroke-width="1.05"/>
<circle cx="388.4" cy="587.8" r="2.4" fill="#22507a" stroke="#0d0d0d" stroke-width="1.05"/>
<circle cx="379.5" cy="590.5" r="2.4" fill="#22507a" stroke="#0d0d0d" stroke-width="1.05"/>
<circle cx="376.5" cy="592.9" r="2.4" fill="#22507a" stroke="#0d0d0d" stroke-width="1.05"/>
<circle cx="383.0" cy="592.4" r="2.4" fill="#22507a" stroke="#0d0d0d" stroke-width="1.05"/>
<circle cx="388.4" cy="594.9" r="2.4" fill="#22507a" stroke="#0d0d0d" stroke-width="1.05"/>
<circle cx="380.5" cy="594.5" r="2.4" fill="#22507a" stroke="#0d0d0d" stroke-width="1.05"/>
<circle cx="407.4" cy="519.6" r="2.4" fill="#b8173c" stroke="#0d0d0d" stroke-width="1.05"/>
<circle cx="407.4" cy="545.5" r="2.4" fill="#b8173c" stroke="#0d0d0d" stroke-width="1.05"/>
<circle cx="401.6" cy="552.9" r="2.4" fill="#b8173c" stroke="#0d0d0d" stroke-width="1.05"/>
<circle cx="407.4" cy="555.1" r="2.4" fill="#b8173c" stroke="#0d0d0d" stroke-width="1.05"/>
<circle cx="407.4" cy="564.4" r="2.4" fill="#b8173c" stroke="#0d0d0d" stroke-width="1.05"/>
<circle cx="401.6" cy="568.7" r="2.4" fill="#b8173c" stroke="#0d0d0d" stroke-width="1.05"/>
<circle cx="413.5" cy="569.2" r="2.4" fill="#b8173c" stroke="#0d0d0d" stroke-width="1.05"/>
<circle cx="407.4" cy="572.9" r="2.4" fill="#b8173c" stroke="#0d0d0d" stroke-width="1.05"/>
<circle cx="404.5" cy="584.4" r="2.4" fill="#b8173c" stroke="#0d0d0d" stroke-width="1.05"/>
<circle cx="410.4" cy="584.4" r="2.4" fill="#b8173c" stroke="#0d0d0d" stroke-width="1.05"/>
<circle cx="407.4" cy="590.7" r="2.4" fill="#b8173c" stroke="#0d0d0d" stroke-width="1.05"/>
<circle cx="401.6" cy="592.9" r="2.4" fill="#b8173c" stroke="#0d0d0d" stroke-width="1.05"/>
<circle cx="413.5" cy="592.4" r="2.4" fill="#b8173c" stroke="#0d0d0d" stroke-width="1.05"/>
<line x1="398.2" y1="568.0" x2="416.59999999999997" y2="568.0" stroke="#1a1a1a" stroke-width="1.15"/>
<line x1="407.4" y1="562.4" x2="407.4" y2="574.6" stroke="#1a1a1a" stroke-width="1.1"/>
<line x1="402.59999999999997" y1="562.4" x2="412.2" y2="562.4" stroke="#1a1a1a" stroke-width="1.1"/>
<line x1="402.59999999999997" y1="574.6" x2="412.2" y2="574.6" stroke="#1a1a1a" stroke-width="1.1"/>
<path d="M382.4,577.6 V507.7 H407.2 V513.3" fill="none" stroke="#1a1a1a" stroke-width="1.1"/>
<text x="394.79999999999995" y="505.1" font-size="6.2" font-weight="bold" text-anchor="middle" dominant-baseline="central" fill="#222">*</text>
<line x1="447.5" y1="502.0" x2="447.5" y2="599.9499999999999" stroke="#111" stroke-width="1.3"/>
<line x1="446.85" y1="599.3" x2="503.8" y2="599.3" stroke="#111" stroke-width="1.3"/>
<line x1="443.5" y1="599.3" x2="447.5" y2="599.3" stroke="#111" stroke-width="1.1"/>
<text x="441.1" y="599.5" font-size="6.8" font-weight="normal" text-anchor="end" dominant-baseline="central" fill="#1a1a1a">0</text>
<line x1="443.5" y1="575.55" x2="447.5" y2="575.55" stroke="#111" stroke-width="1.1"/>
<text x="441.1" y="575.75" font-size="6.8" font-weight="normal" text-anchor="end" dominant-baseline="central" fill="#1a1a1a">5</text>
<line x1="443.5" y1="551.8" x2="447.5" y2="551.8" stroke="#111" stroke-width="1.1"/>
<text x="441.1" y="552.0" font-size="6.8" font-weight="normal" text-anchor="end" dominant-baseline="central" fill="#1a1a1a">10</text>
<line x1="443.5" y1="528.05" x2="447.5" y2="528.05" stroke="#111" stroke-width="1.1"/>
<text x="441.1" y="528.25" font-size="6.8" font-weight="normal" text-anchor="end" dominant-baseline="central" fill="#1a1a1a">15</text>
<line x1="443.5" y1="504.3" x2="447.5" y2="504.3" stroke="#111" stroke-width="1.1"/>
<text x="441.1" y="504.5" font-size="6.8" font-weight="normal" text-anchor="end" dominant-baseline="central" fill="#1a1a1a">20</text>
<line x1="463.3" y1="599.3" x2="463.3" y2="601.9" stroke="#111" stroke-width="1.1"/>
<text x="463.3" y="609.2" font-size="6.8" font-weight="normal" text-anchor="middle" dominant-baseline="central" fill="#1a1a1a">Ctrl</text>
<line x1="487.7" y1="599.3" x2="487.7" y2="601.9" stroke="#111" stroke-width="1.1"/>
<text x="487.7" y="609.2" font-size="6.8" font-weight="normal" text-anchor="middle" dominant-baseline="central" fill="#1a1a1a">Abx</text>
<line x1="454.1" y1="589.0" x2="472.5" y2="589.0" stroke="#1a1a1a" stroke-width="1.15"/>
<circle cx="460.3" cy="580.0" r="2.4" fill="#22507a" stroke="#0d0d0d" stroke-width="1.05"/>
<circle cx="469.2" cy="582.2" r="2.4" fill="#22507a" stroke="#0d0d0d" stroke-width="1.05"/>
<circle cx="457.4" cy="583.9" r="2.4" fill="#22507a" stroke="#0d0d0d" stroke-width="1.05"/>
<circle cx="463.5" cy="584.5" r="2.4" fill="#22507a" stroke="#0d0d0d" stroke-width="1.05"/>
<circle cx="466.7" cy="586.4" r="2.4" fill="#22507a" stroke="#0d0d0d" stroke-width="1.05"/>
<circle cx="456.5" cy="588.1" r="2.4" fill="#22507a" stroke="#0d0d0d" stroke-width="1.05"/>
<circle cx="461.3" cy="587.8" r="2.4" fill="#22507a" stroke="#0d0d0d" stroke-width="1.05"/>
<circle cx="469.2" cy="589.0" r="2.4" fill="#22507a" stroke="#0d0d0d" stroke-width="1.05"/>
<circle cx="459.0" cy="591.0" r="2.4" fill="#22507a" stroke="#0d0d0d" stroke-width="1.05"/>
<circle cx="464.2" cy="591.2" r="2.4" fill="#22507a" stroke="#0d0d0d" stroke-width="1.05"/>
<circle cx="457.5" cy="593.5" r="2.4" fill="#22507a" stroke="#0d0d0d" stroke-width="1.05"/>
<circle cx="466.7" cy="593.2" r="2.4" fill="#22507a" stroke="#0d0d0d" stroke-width="1.05"/>
<circle cx="460.3" cy="596.3" r="2.4" fill="#22507a" stroke="#0d0d0d" stroke-width="1.05"/>
<circle cx="487.9" cy="524.6" r="2.4" fill="#b8173c" stroke="#0d0d0d" stroke-width="1.05"/>
<circle cx="487.9" cy="547.8" r="2.4" fill="#b8173c" stroke="#0d0d0d" stroke-width="1.05"/>
<circle cx="482.0" cy="564.8" r="2.4" fill="#b8173c" stroke="#0d0d0d" stroke-width="1.05"/>
<circle cx="487.9" cy="567.0" r="2.4" fill="#b8173c" stroke="#0d0d0d" stroke-width="1.05"/>
<circle cx="493.8" cy="563.1" r="2.4" fill="#b8173c" stroke="#0d0d0d" stroke-width="1.05"/>
<circle cx="493.8" cy="574.3" r="2.4" fill="#b8173c" stroke="#0d0d0d" stroke-width="1.05"/>
<circle cx="487.9" cy="577.6" r="2.4" fill="#b8173c" stroke="#0d0d0d" stroke-width="1.05"/>
<circle cx="482.0" cy="582.2" r="2.4" fill="#b8173c" stroke="#0d0d0d" stroke-width="1.05"/>
<circle cx="487.9" cy="583.1" r="2.4" fill="#b8173c" stroke="#0d0d0d" stroke-width="1.05"/>
<circle cx="493.8" cy="582.2" r="2.4" fill="#b8173c" stroke="#0d0d0d" stroke-width="1.05"/>
<circle cx="487.9" cy="589.0" r="2.4" fill="#b8173c" stroke="#0d0d0d" stroke-width="1.05"/>
<circle cx="482.0" cy="594.1" r="2.4" fill="#b8173c" stroke="#0d0d0d" stroke-width="1.05"/>
<circle cx="493.8" cy="593.6" r="2.4" fill="#b8173c" stroke="#0d0d0d" stroke-width="1.05"/>
<line x1="478.7" y1="572.9" x2="497.09999999999997" y2="572.9" stroke="#1a1a1a" stroke-width="1.15"/>
<line x1="487.9" y1="568.5" x2="487.9" y2="577.3" stroke="#1a1a1a" stroke-width="1.1"/>
<line x1="483.09999999999997" y1="568.5" x2="492.7" y2="568.5" stroke="#1a1a1a" stroke-width="1.1"/>
<line x1="483.09999999999997" y1="577.3" x2="492.7" y2="577.3" stroke="#1a1a1a" stroke-width="1.1"/>
<path d="M463.3,574.3 V513.3 H487.7 V517.9" fill="none" stroke="#1a1a1a" stroke-width="1.1"/>
<text x="475.5" y="510.6" font-size="6.2" font-weight="bold" text-anchor="middle" dominant-baseline="central" fill="#222">*</text>
<text x="12.2" y="12.6" font-size="11.6" font-weight="bold" text-anchor="middle" dominant-baseline="central" fill="#111">A</text>
<text x="12.0" y="187.6" font-size="11.6" font-weight="bold" text-anchor="middle" dominant-baseline="central" fill="#111">B</text>
<text x="11.9" y="334.1" font-size="11.6" font-weight="bold" text-anchor="middle" dominant-baseline="central" fill="#111">C</text>
<text x="204.8" y="334.1" font-size="11.6" font-weight="bold" text-anchor="middle" dominant-baseline="central" fill="#111">D</text>
<text x="11.8" y="483.1" font-size="11.6" font-weight="bold" text-anchor="middle" dominant-baseline="central" fill="#111">E</text>
<text x="65.75" y="13.9" font-size="9.2" text-anchor="start" dominant-baseline="central" fill="#1a1a1a" textLength="36.50" lengthAdjust="spacingAndGlyphs">Pre-Pro B</text>
<text x="194.08" y="13.9" font-size="9.2" text-anchor="start" dominant-baseline="central" fill="#1a1a1a" textLength="21.05" lengthAdjust="spacingAndGlyphs">Pro-B</text>
<text x="315.28" y="13.9" font-size="9.2" text-anchor="start" dominant-baseline="central" fill="#1a1a1a" textLength="21.05" lengthAdjust="spacingAndGlyphs">Pre-B</text>
<text x="54.18" y="188.9" font-size="9.2" text-anchor="start" dominant-baseline="central" fill="#1a1a1a" textLength="19.23" lengthAdjust="spacingAndGlyphs">B220</text>
<text x="73.72" y="186.3" font-size="5.2" text-anchor="start" dominant-baseline="central" fill="#1a1a1a">+</text>
<text x="129.95" y="188.9" font-size="9.2" text-anchor="start" dominant-baseline="central" fill="#1a1a1a" textLength="36.50" lengthAdjust="spacingAndGlyphs">Pre-Pro B</text>
<text x="220.88" y="188.9" font-size="9.2" text-anchor="start" dominant-baseline="central" fill="#1a1a1a" textLength="21.05" lengthAdjust="spacingAndGlyphs">Pro-B</text>
<text x="305.88" y="188.9" font-size="9.2" text-anchor="start" dominant-baseline="central" fill="#1a1a1a" textLength="21.05" lengthAdjust="spacingAndGlyphs">Pre-B</text>
<text x="379.02" y="188.9" font-size="9.2" text-anchor="start" dominant-baseline="central" fill="#1a1a1a" textLength="42.55" lengthAdjust="spacingAndGlyphs">Immature B</text>
<text x="468.10" y="188.9" font-size="9.2" text-anchor="start" dominant-baseline="central" fill="#1a1a1a" textLength="33.41" lengthAdjust="spacingAndGlyphs">Mature B</text>
<text x="73.95" y="336.1" font-size="9.2" text-anchor="start" dominant-baseline="central" fill="#1a1a1a" textLength="71.50" lengthAdjust="spacingAndGlyphs">Whole Blood B220</text>
<text x="145.75" y="333.5" font-size="5.2" text-anchor="start" dominant-baseline="central" fill="#1a1a1a">+</text>
<text x="275.20" y="336.1" font-size="9.2" text-anchor="start" dominant-baseline="central" fill="#1a1a1a" textLength="49.00" lengthAdjust="spacingAndGlyphs">Spleen B220</text>
<text x="324.50" y="333.5" font-size="5.2" text-anchor="start" dominant-baseline="central" fill="#1a1a1a">+</text>
<text x="53.08" y="484.6" font-size="9.2" text-anchor="start" dominant-baseline="central" fill="#1a1a1a" textLength="19.23" lengthAdjust="spacingAndGlyphs">B220</text>
<text x="72.62" y="482.0" font-size="5.2" text-anchor="start" dominant-baseline="central" fill="#1a1a1a">+</text>
<text x="136.05" y="484.6" font-size="9.2" text-anchor="start" dominant-baseline="central" fill="#1a1a1a" textLength="36.50" lengthAdjust="spacingAndGlyphs">Pre-Pro B</text>
<text x="224.28" y="484.6" font-size="9.2" text-anchor="start" dominant-baseline="central" fill="#1a1a1a" textLength="21.05" lengthAdjust="spacingAndGlyphs">Pro-B</text>
<text x="304.98" y="484.6" font-size="9.2" text-anchor="start" dominant-baseline="central" fill="#1a1a1a" textLength="21.05" lengthAdjust="spacingAndGlyphs">Pre-B</text>
<text x="373.52" y="484.6" font-size="9.2" text-anchor="start" dominant-baseline="central" fill="#1a1a1a" textLength="42.55" lengthAdjust="spacingAndGlyphs">Immature B</text>
<text x="459.10" y="484.6" font-size="9.2" text-anchor="start" dominant-baseline="central" fill="#1a1a1a" textLength="33.41" lengthAdjust="spacingAndGlyphs">Mature B</text>
<rect x="0.5" y="0.5" width="519" height="619" fill="none" stroke="#4a4a4a" stroke-width="1"/>
</svg></body></html>
